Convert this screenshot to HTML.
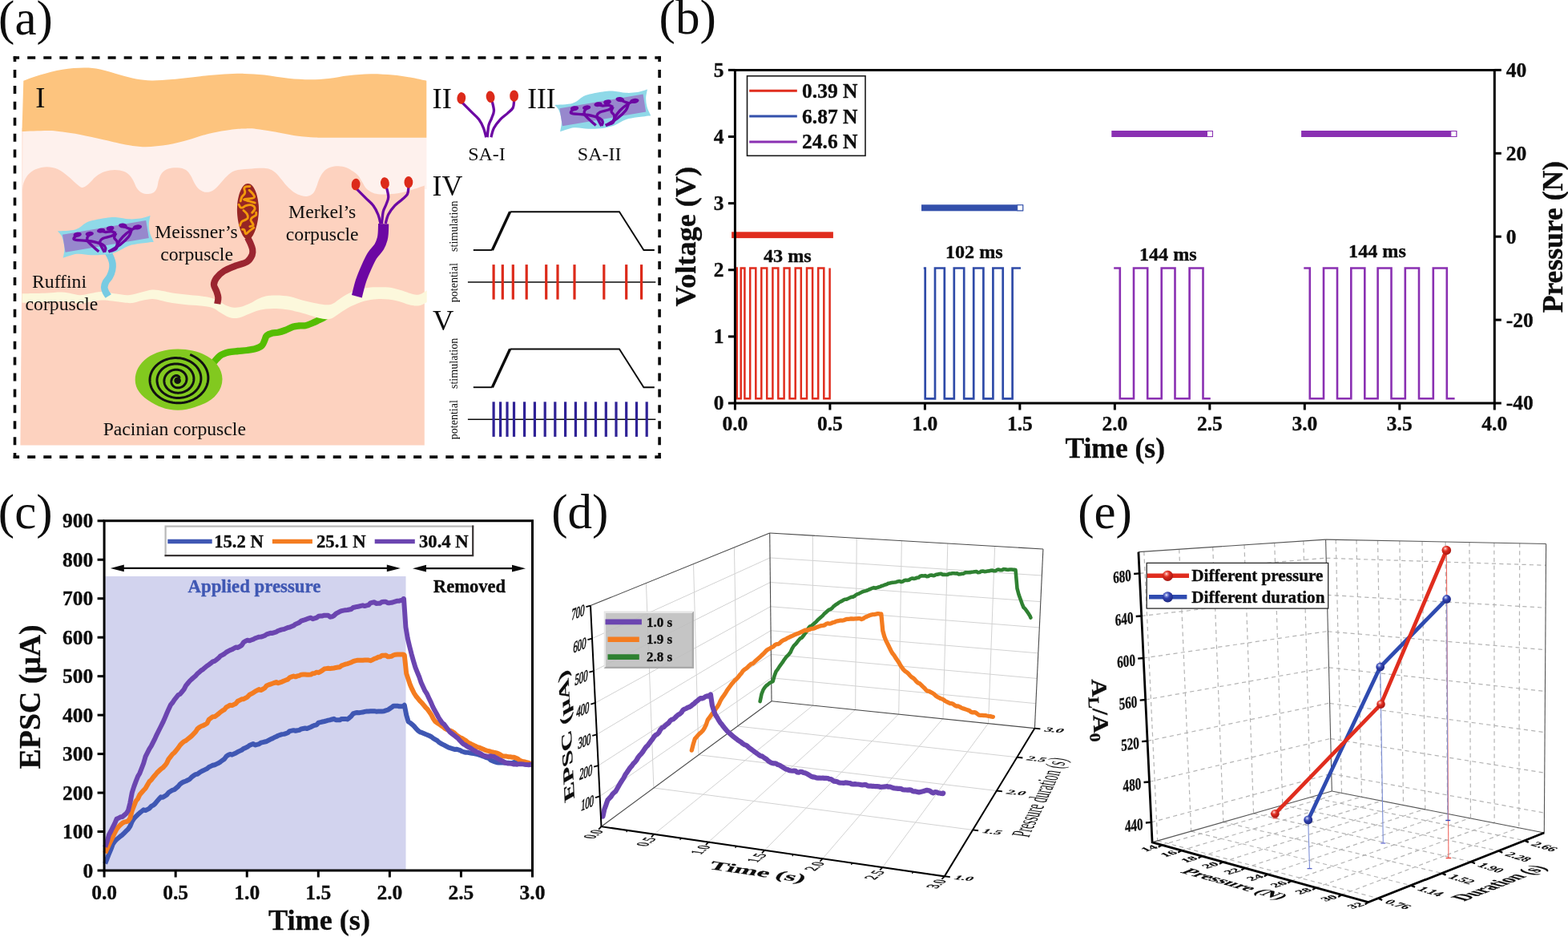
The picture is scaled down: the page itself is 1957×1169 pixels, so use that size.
<!DOCTYPE html>
<html lang="en"><head><meta charset="utf-8"><title>Figure</title>
<style>
html,body{margin:0;padding:0;background:#fff;}
body{width:1957px;height:1169px;overflow:hidden;}
svg{display:block;}
text{font-family:"Liberation Serif","Times New Roman",serif;fill:#0d0d0d;}
.b{font-weight:bold;stroke:#0d0d0d;stroke-width:0.35px;}
.i{font-style:italic;}
</style></head><body>
<svg width="1957" height="1169" viewBox="0 0 1957 1169">
<rect width="1957" height="1169" fill="#fff"/>
<!-- 05_a_left.py -->
<g id="panel-a-left"><path d="M27.6 150 H532.4 V236 L529.8 236 V250 H27.6 Z" stroke="none" stroke-width="1" fill="#fef1ed" />
<path d="M28.00 237.00 C28.22 235.58 28.13 231.67 29.30 228.50 C30.47 225.33 32.38 220.92 35.00 218.00 C37.62 215.08 41.08 212.63 45.00 211.00 C48.92 209.37 54.00 208.20 58.50 208.20 C63.00 208.20 67.58 209.03 72.00 211.00 C76.42 212.97 81.17 217.00 85.00 220.00 C88.83 223.00 92.08 226.68 95.00 229.00 C97.92 231.32 100.00 233.73 102.50 233.90 C105.00 234.07 107.08 232.32 110.00 230.00 C112.92 227.68 116.50 222.67 120.00 220.00 C123.50 217.33 127.12 215.33 131.00 214.00 C134.88 212.67 139.30 212.00 143.30 212.00 C147.30 212.00 151.88 212.83 155.00 214.00 C158.12 215.17 160.10 217.10 162.00 219.00 C163.90 220.90 164.90 222.73 166.40 225.40 C167.90 228.07 169.23 232.48 171.00 235.00 C172.77 237.52 174.68 239.33 177.00 240.50 C179.32 241.67 182.40 242.08 184.90 242.00 C187.40 241.92 190.15 241.33 192.00 240.00 C193.85 238.67 195.00 236.50 196.00 234.00 C197.00 231.50 197.00 228.00 198.00 225.00 C199.00 222.00 200.00 218.42 202.00 216.00 C204.00 213.58 206.68 211.62 210.00 210.50 C213.32 209.38 218.23 209.05 221.90 209.30 C225.57 209.55 229.32 210.38 232.00 212.00 C234.68 213.62 236.17 216.17 238.00 219.00 C239.83 221.83 241.17 226.08 243.00 229.00 C244.83 231.92 246.62 234.70 249.00 236.50 C251.38 238.30 254.47 239.63 257.30 239.80 C260.13 239.97 263.22 239.13 266.00 237.50 C268.78 235.87 271.17 232.92 274.00 230.00 C276.83 227.08 279.82 222.82 283.00 220.00 C286.18 217.18 288.60 214.63 293.10 213.10 C297.60 211.57 303.58 211.32 310.00 210.80 C316.42 210.28 326.27 209.47 331.60 210.00 C336.93 210.53 338.92 211.93 342.00 214.00 C345.08 216.07 347.43 219.40 350.10 222.40 C352.77 225.40 355.18 229.07 358.00 232.00 C360.82 234.93 364.00 238.00 367.00 240.00 C370.00 242.00 373.17 243.22 376.00 244.00 C378.83 244.78 381.50 245.20 384.00 244.70 C386.50 244.20 389.17 242.95 391.00 241.00 C392.83 239.05 393.67 236.17 395.00 233.00 C396.33 229.83 397.33 225.33 399.00 222.00 C400.67 218.67 402.67 215.25 405.00 213.00 C407.33 210.75 410.08 209.45 413.00 208.50 C415.92 207.55 419.33 207.22 422.50 207.30 C425.67 207.38 428.92 207.88 432.00 209.00 C435.08 210.12 438.47 212.28 441.00 214.00 C443.53 215.72 445.37 217.13 447.20 219.30 C449.03 221.47 450.37 224.38 452.00 227.00 C453.63 229.62 455.00 232.83 457.00 235.00 C459.00 237.17 461.50 238.80 464.00 240.00 C466.50 241.20 468.50 241.82 472.00 242.20 C475.50 242.58 480.33 242.58 485.00 242.30 C489.67 242.02 495.00 241.47 500.00 240.50 C505.00 239.53 510.03 237.98 515.00 236.50 C519.97 235.02 527.33 232.42 529.80 231.60 L529.8 555.5 L25.4 555.5 L27.6 300 L27.6 160 L28.3 160 Z" stroke="none" stroke-width="1" fill="#fdd2bf" />
<path d="M29.30 100.80 C32.75 99.58 41.88 95.83 50.00 93.50 C58.12 91.17 68.88 88.28 78.00 86.80 C87.12 85.32 96.87 84.65 104.70 84.60 C112.53 84.55 117.45 85.02 125.00 86.50 C132.55 87.98 142.50 91.50 150.00 93.50 C157.50 95.50 163.43 97.35 170.00 98.50 C176.57 99.65 181.90 100.32 189.40 100.40 C196.90 100.48 204.90 99.87 215.00 99.00 C225.10 98.13 239.17 96.27 250.00 95.20 C260.83 94.13 270.83 93.15 280.00 92.60 C289.17 92.05 296.67 91.75 305.00 91.90 C313.33 92.05 320.83 92.52 330.00 93.50 C339.17 94.48 350.50 96.83 360.00 97.80 C369.50 98.77 378.67 99.27 387.00 99.30 C395.33 99.33 402.00 98.83 410.00 98.00 C418.00 97.17 426.25 95.25 435.00 94.30 C443.75 93.35 453.33 92.42 462.50 92.30 C471.67 92.18 481.75 92.88 490.00 93.60 C498.25 94.32 504.95 95.40 512.00 96.60 C519.05 97.80 528.92 100.10 532.30 100.80 L532.3 171.7 C526.92 171.70 513.72 171.70 500.00 171.70 C486.28 171.70 465.00 171.70 450.00 171.70 C435.00 171.70 419.50 171.73 410.00 171.70 C400.50 171.67 399.67 171.87 393.00 171.50 C386.33 171.13 378.83 170.75 370.00 169.50 C361.17 168.25 348.33 165.42 340.00 164.00 C331.67 162.58 325.50 161.60 320.00 161.00 C314.50 160.40 312.00 160.32 307.00 160.40 C302.00 160.48 297.50 160.48 290.00 161.50 C282.50 162.52 271.17 164.33 262.00 166.50 C252.83 168.67 243.67 172.17 235.00 174.50 C226.33 176.83 218.88 179.05 210.00 180.50 C201.12 181.95 190.03 183.12 181.70 183.20 C173.37 183.28 168.62 182.45 160.00 181.00 C151.38 179.55 140.00 176.67 130.00 174.50 C120.00 172.33 108.67 169.67 100.00 168.00 C91.33 166.33 84.67 165.33 78.00 164.50 C71.33 163.67 68.42 163.08 60.00 163.00 C51.58 162.92 32.92 163.83 27.50 164.00 Z" stroke="none" stroke-width="1" fill="#fdc47e" />
<path d="M266.00 453.00 C267.50 451.42 271.77 445.77 275.00 443.50 C278.23 441.23 281.73 440.32 285.40 439.40 C289.07 438.48 293.15 438.40 297.00 438.00 C300.85 437.60 304.83 437.50 308.50 437.00 C312.17 436.50 315.92 436.02 319.00 435.00 C322.08 433.98 325.08 432.73 327.00 430.90 C328.92 429.07 329.50 426.05 330.50 424.00 C331.50 421.95 331.42 420.02 333.00 418.60 C334.58 417.18 337.67 416.15 340.00 415.50 C342.33 414.85 344.33 415.28 347.00 414.70 C349.67 414.12 352.92 413.15 356.00 412.00 C359.08 410.85 362.67 408.72 365.50 407.80 C368.33 406.88 370.42 406.77 373.00 406.50 C375.58 406.23 378.17 406.78 381.00 406.20 C383.83 405.62 387.18 404.15 390.00 403.00 C392.82 401.85 395.57 400.42 397.90 399.30 C400.23 398.18 402.15 397.32 404.00 396.30 C405.85 395.28 408.17 393.72 409.00 393.20" stroke="#55bd03" stroke-width="8.3" fill="none" stroke-linecap="butt"/>
<path d="M27.50 366.20 C30.42 366.17 39.58 366.12 45.00 366.00 C50.42 365.88 54.67 365.73 60.00 365.50 C65.33 365.27 72.00 364.43 77.00 364.60 C82.00 364.77 86.17 365.88 90.00 366.50 C93.83 367.12 96.17 368.38 100.00 368.30 C103.83 368.22 108.50 366.73 113.00 366.00 C117.50 365.27 121.67 363.82 127.00 363.90 C132.33 363.98 139.50 365.78 145.00 366.50 C150.50 367.22 155.00 368.45 160.00 368.20 C165.00 367.95 170.00 366.10 175.00 365.00 C180.00 363.90 185.33 361.93 190.00 361.60 C194.67 361.27 198.83 362.37 203.00 363.00 C207.17 363.63 210.17 364.65 215.00 365.40 C219.83 366.15 226.17 366.85 232.00 367.50 C237.83 368.15 244.83 368.63 250.00 369.30 C255.17 369.97 259.33 370.55 263.00 371.50 C266.67 372.45 269.00 373.50 272.00 375.00 C275.00 376.50 278.00 379.08 281.00 380.50 C284.00 381.92 286.83 383.08 290.00 383.50 C293.17 383.92 296.33 383.83 300.00 383.00 C303.67 382.17 308.33 380.17 312.00 378.50 C315.67 376.83 318.73 374.50 322.00 373.00 C325.27 371.50 327.77 370.25 331.60 369.50 C335.43 368.75 339.93 368.42 345.00 368.50 C350.07 368.58 356.52 368.97 362.00 370.00 C367.48 371.03 372.40 373.28 377.90 374.70 C383.40 376.12 389.98 377.57 395.00 378.50 C400.02 379.43 404.50 380.30 408.00 380.30 C411.50 380.30 413.00 379.97 416.00 378.50 C419.00 377.03 422.08 373.92 426.00 371.50 C429.92 369.08 434.67 366.00 439.50 364.00 C444.33 362.00 449.92 360.45 455.00 359.50 C460.08 358.55 465.00 358.45 470.00 358.30 C475.00 358.15 480.00 357.98 485.00 358.60 C490.00 359.22 495.50 360.77 500.00 362.00 C504.50 363.23 508.73 365.05 512.00 366.00 C515.27 366.95 517.27 367.62 519.60 367.70 C521.93 367.78 523.82 367.40 526.00 366.50 C528.18 365.60 531.58 363.00 532.70 362.30 L532.7 377 C531.58 377.58 528.18 379.73 526.00 380.50 C523.82 381.27 522.27 381.68 519.60 381.60 C516.93 381.52 513.60 380.93 510.00 380.00 C506.40 379.07 502.17 377.08 498.00 376.00 C493.83 374.92 489.67 373.97 485.00 373.50 C480.33 373.03 475.00 372.87 470.00 373.20 C465.00 373.53 460.08 374.12 455.00 375.50 C449.92 376.88 444.00 379.42 439.50 381.50 C435.00 383.58 431.25 386.00 428.00 388.00 C424.75 390.00 422.45 391.90 420.00 393.50 C417.55 395.10 415.80 396.85 413.30 397.60 C410.80 398.35 408.05 398.27 405.00 398.00 C401.95 397.73 399.52 397.20 395.00 396.00 C390.48 394.80 383.73 392.38 377.90 390.80 C372.07 389.22 365.48 387.47 360.00 386.50 C354.52 385.53 349.73 385.17 345.00 385.00 C340.27 384.83 335.77 385.00 331.60 385.50 C327.43 386.00 323.60 386.92 320.00 388.00 C316.40 389.08 313.33 390.67 310.00 392.00 C306.67 393.33 302.83 395.17 300.00 396.00 C297.17 396.83 295.50 397.08 293.00 397.00 C290.50 396.92 288.00 396.67 285.00 395.50 C282.00 394.33 278.33 391.92 275.00 390.00 C271.67 388.08 269.17 385.42 265.00 384.00 C260.83 382.58 255.67 382.17 250.00 381.50 C244.33 380.83 236.83 380.58 231.00 380.00 C225.17 379.42 220.17 378.88 215.00 378.00 C209.83 377.12 204.17 375.52 200.00 374.70 C195.83 373.88 193.83 373.05 190.00 373.10 C186.17 373.15 181.17 374.18 177.00 375.00 C172.83 375.82 168.67 377.58 165.00 378.00 C161.33 378.42 159.17 377.92 155.00 377.50 C150.83 377.08 144.67 376.00 140.00 375.50 C135.33 375.00 131.50 374.33 127.00 374.50 C122.50 374.67 117.50 375.83 113.00 376.50 C108.50 377.17 106.00 378.58 100.00 378.50 C94.00 378.42 83.67 376.33 77.00 376.00 C70.33 375.67 65.33 376.25 60.00 376.50 C54.67 376.75 50.42 377.30 45.00 377.50 C39.58 377.70 30.42 377.67 27.50 377.70 Z" stroke="none" stroke-width="1" fill="#fcf8dc" />
<path d="M134.50 314.00 C135.17 315.33 137.50 319.50 138.50 322.00 C139.50 324.50 140.25 326.50 140.50 329.00 C140.75 331.50 140.58 334.33 140.00 337.00 C139.42 339.67 138.33 342.50 137.00 345.00 C135.67 347.50 133.13 349.75 132.00 352.00 C130.87 354.25 130.20 356.42 130.20 358.50 C130.20 360.58 131.17 362.67 132.00 364.50 C132.83 366.33 134.67 368.67 135.20 369.50" stroke="#77cbe3" stroke-width="8.6" fill="none" stroke-linecap="butt"/>
<g transform="translate(0.00 0.00)"><path d="M71.86 288.42 C75.63 288.06 88.09 288.24 94.50 286.26 C100.91 284.29 104.08 278.96 110.31 276.56 C116.54 274.17 125.88 272.79 131.87 271.89 C137.86 270.99 141.45 270.93 146.24 271.17 C151.04 271.41 155.83 273.09 160.62 273.33 C165.41 273.57 170.50 273.33 174.99 272.61 C179.48 271.89 185.47 269.61 187.57 269.01 C187.27 270.87 185.83 276.50 185.77 280.15 C185.71 283.81 186.19 287.34 187.21 290.94 C188.23 294.53 191.10 299.92 191.88 301.72 C189.07 302.07 180.20 303.03 174.99 303.87 C169.78 304.71 165.41 305.07 160.62 306.75 C155.83 308.42 151.04 312.14 146.24 313.93 C141.45 315.73 137.26 316.81 131.87 317.53 C126.48 318.25 119.89 318.37 113.90 318.25 C107.91 318.13 101.80 316.21 95.94 316.81 C90.07 317.41 81.56 321.00 78.69 321.84 C78.99 319.68 80.72 313.33 80.48 308.90 C80.24 304.47 78.69 298.66 77.25 295.25 C75.81 291.83 72.76 289.56 71.86 288.42Z" stroke="none" stroke-width="1" fill="#8fd9e8" /><polygon points="77.97,292.73 182.18,274.98 185.77,297.04 81.56,314.80" fill="#9788cd"/><ellipse cx="96.65" cy="292.73" rx="5.17" ry="3.02" fill="#6c07a3" transform="rotate(-8 96.65 292.73)"/><ellipse cx="111.75" cy="291.80" rx="5.17" ry="2.87" fill="#6c07a3" transform="rotate(-8 111.75 291.80)"/><ellipse cx="126.12" cy="287.70" rx="5.17" ry="2.87" fill="#6c07a3" transform="rotate(-10 126.12 287.70)"/><ellipse cx="137.62" cy="284.83" rx="4.89" ry="2.87" fill="#6c07a3" transform="rotate(-10 137.62 284.83)"/><ellipse cx="153.43" cy="281.59" rx="5.39" ry="3.02" fill="#6c07a3" transform="rotate(8 153.43 281.59)"/><ellipse cx="171.40" cy="283.39" rx="5.75" ry="3.02" fill="#6c07a3" transform="rotate(-8 171.40 283.39)"/><path d="M96.65 293.09 C95.94 293.69 92.82 295.67 92.34 296.68 C91.86 297.70 91.38 298.60 93.78 299.20 C96.17 299.80 102.76 299.86 106.72 300.28 C110.67 300.70 113.90 300.88 117.50 301.72 C121.09 302.55 125.88 303.99 128.28 305.31 C130.67 306.63 131.51 308.06 131.87 309.62 C132.23 311.18 130.67 313.81 130.43 314.65" stroke="#6c07a3" stroke-width="3.4" fill="none" stroke-linecap="butt" stroke-linejoin="round"/><path d="M111.75 292.37 C111.27 293.09 109.23 295.25 108.87 296.68 C108.51 298.12 108.27 299.08 109.59 301.00 C110.91 302.91 114.50 306.03 116.78 308.18 C119.05 310.34 122.17 312.98 123.25 313.93" stroke="#6c07a3" stroke-width="3.4" fill="none" stroke-linecap="butt" stroke-linejoin="round"/><path d="M126.12 288.06 C127.08 288.30 129.71 289.38 131.87 289.50 C134.03 289.62 136.90 288.54 139.06 288.78 C141.21 289.02 143.85 290.58 144.81 290.94" stroke="#6c07a3" stroke-width="3.4" fill="none" stroke-linecap="butt" stroke-linejoin="round"/><path d="M137.62 285.19 C137.86 285.78 138.82 288.18 139.06 288.78" stroke="#6c07a3" stroke-width="3.4" fill="none" stroke-linecap="butt" stroke-linejoin="round"/><path d="M144.81 290.94 C143.85 291.53 141.81 293.45 139.06 294.53 C136.30 295.61 130.67 296.21 128.28 297.40 C125.88 298.60 125.04 300.16 124.68 301.72 C124.32 303.27 125.16 304.59 126.12 306.75 C127.08 308.90 129.71 313.33 130.43 314.65" stroke="#6c07a3" stroke-width="3.4" fill="none" stroke-linecap="butt" stroke-linejoin="round"/><path d="M144.81 290.94 C144.45 291.89 142.41 294.89 142.65 296.68 C142.89 298.48 145.88 299.44 146.24 301.72 C146.60 303.99 146.60 308.30 144.81 310.34 C143.01 312.38 137.02 313.33 135.46 313.93" stroke="#6c07a3" stroke-width="3.4" fill="none" stroke-linecap="butt" stroke-linejoin="round"/><path d="M153.43 281.95 C154.39 282.37 157.38 283.75 159.18 284.47 C160.98 285.19 163.37 285.96 164.21 286.26" stroke="#6c07a3" stroke-width="3.4" fill="none" stroke-linecap="butt" stroke-linejoin="round"/><path d="M171.40 283.75 C170.20 284.23 167.21 284.71 164.21 286.62 C161.22 288.54 156.43 292.13 153.43 295.25 C150.44 298.36 147.68 302.79 146.24 305.31 C144.81 307.82 145.05 309.50 144.81 310.34" stroke="#6c07a3" stroke-width="3.4" fill="none" stroke-linecap="butt" stroke-linejoin="round"/><path d="M164.21 286.62 C163.61 288.06 163.01 292.13 160.62 295.25 C158.22 298.36 154.03 302.19 149.84 305.31 C145.65 308.42 137.86 312.50 135.46 313.93" stroke="#6c07a3" stroke-width="3.4" fill="none" stroke-linecap="butt" stroke-linejoin="round"/></g>
<path d="M309.00 296.44 C309.59 297.64 311.57 301.23 312.59 303.62 C313.61 306.02 314.74 308.42 315.10 310.81 C315.46 313.21 315.88 315.36 314.74 318.00 C313.61 320.63 311.75 324.35 308.28 326.62 C304.80 328.90 298.69 329.74 293.90 331.65 C289.11 333.57 283.48 335.61 279.53 338.12 C275.58 340.64 272.28 343.87 270.19 346.75 C268.09 349.62 266.95 352.62 266.95 355.37 C266.95 358.13 269.29 360.64 270.19 363.28 C271.08 365.91 272.16 368.55 272.34 371.18 C272.52 373.82 271.44 377.77 271.26 379.09" stroke="#9b2530" stroke-width="8.2" fill="none" stroke-linecap="butt"/>
<path d="M309.4 229 C318 229 323.2 247 323 262 C322.8 278 317 298.8 309.4 298.8 C301.8 298.8 296 278 295.9 262 C295.8 247 301 229 309.4 229 Z" fill="#972624"/>
<path d="M311.81 232.61 C310.97 232.64 307.95 232.40 306.78 232.82 C305.60 233.24 304.94 234.14 304.76 235.12 C304.59 236.11 305.60 237.64 305.70 238.72 C305.80 239.80 306.00 240.39 305.34 241.59 C304.68 242.79 302.58 244.35 301.75 245.90 C300.91 247.46 300.55 250.10 300.31 250.94" stroke="#f39a0b" stroke-width="2.9" fill="none" stroke-linecap="round" stroke-linejoin="round"/>
<path d="M311.09 237.28 C311.81 238.00 314.32 240.15 315.40 241.59 C316.48 243.03 317.68 244.95 317.56 245.90 C317.44 246.86 316.84 246.86 314.68 247.34 C312.53 247.82 305.22 248.18 304.62 248.78 C304.02 249.38 308.81 250.22 311.09 250.94 C313.37 251.65 317.08 252.73 318.28 253.09" stroke="#f39a0b" stroke-width="2.9" fill="none" stroke-linecap="round" stroke-linejoin="round"/>
<path d="M298.15 255.25 C298.51 255.85 299.47 258.24 300.31 258.84 C301.15 259.44 302.11 259.20 303.18 258.84 C304.26 258.48 305.22 257.22 306.78 256.68 C308.33 256.15 310.85 255.49 312.53 255.61 C314.20 255.73 315.94 256.50 316.84 257.40 C317.74 258.30 318.28 259.68 317.92 261.00 C317.56 262.31 315.22 264.59 314.68 265.31" stroke="#f39a0b" stroke-width="2.9" fill="none" stroke-linecap="round" stroke-linejoin="round"/>
<path d="M303.90 262.43 C304.62 263.15 307.32 265.19 308.21 266.75 C309.11 268.30 309.53 270.58 309.29 271.78 C309.05 272.98 308.04 273.15 306.78 273.93 C305.52 274.71 302.94 275.25 301.75 276.45 C300.55 277.65 299.95 280.34 299.59 281.12" stroke="#f39a0b" stroke-width="2.9" fill="none" stroke-linecap="round" stroke-linejoin="round"/>
<path d="M319.71 265.31 C319.65 265.85 320.19 267.53 319.35 268.54 C318.52 269.56 315.76 270.40 314.68 271.42 C313.61 272.44 312.83 273.51 312.89 274.65 C312.95 275.79 314.50 277.17 315.04 278.25 C315.58 279.32 316.66 280.40 316.12 281.12 C315.58 281.84 312.53 282.32 311.81 282.56" stroke="#f39a0b" stroke-width="2.9" fill="none" stroke-linecap="round" stroke-linejoin="round"/>
<path d="M302.47 286.15 C302.88 286.27 304.26 285.91 304.98 286.87 C305.70 287.83 305.76 291.66 306.78 291.90 C307.80 292.14 309.41 289.63 311.09 288.31 C312.77 286.99 315.88 284.71 316.84 284.00" stroke="#f39a0b" stroke-width="2.9" fill="none" stroke-linecap="round" stroke-linejoin="round"/>
<path d="M478.64 279.22 C478.58 281.02 478.52 286.89 478.28 290.00 C478.04 293.11 478.04 294.91 477.20 297.91 C476.36 300.90 475.34 304.49 473.25 307.97 C471.15 311.44 467.26 314.56 464.62 318.75 C461.99 322.94 459.83 327.73 457.43 333.12 C455.04 338.51 452.26 344.98 450.25 351.09 C448.23 357.20 446.17 366.66 445.36 369.78" stroke="#6c07a3" stroke-width="13.2" fill="none" stroke-linecap="butt"/>
<g transform="translate(0.00 0.00)"><path d="M444.50 235.15 C446.53 237.19 453.12 243.78 456.72 247.37 C460.31 250.97 463.54 253.36 466.06 256.72 C468.57 260.07 470.31 263.78 471.81 267.50 C473.31 271.21 474.50 277.08 475.04 279.00" stroke="#6c07a3" stroke-width="3.3" fill="none" stroke-linecap="butt"/><path d="M482.59 234.44 C482.95 236.35 484.86 242.46 484.74 245.94 C484.63 249.41 482.95 252.28 481.87 255.28 C480.79 258.27 479.17 259.95 478.28 263.90 C477.38 267.86 476.78 276.48 476.48 279.00" stroke="#6c07a3" stroke-width="3.3" fill="none" stroke-linecap="butt"/><path d="M509.90 233.72 C509.66 235.15 509.78 239.83 508.46 242.34 C507.14 244.86 504.63 246.41 501.99 248.81 C499.36 251.21 495.53 253.60 492.65 256.72 C489.78 259.83 486.66 263.78 484.74 267.50 C482.83 271.21 481.75 277.08 481.15 279.00" stroke="#6c07a3" stroke-width="3.3" fill="none" stroke-linecap="butt"/><ellipse cx="444.10" cy="230.10" rx="5.4" ry="7.3" fill="#dc2a1a" transform="rotate(5 444.10 230.10)"/><ellipse cx="480.40" cy="228.50" rx="5.4" ry="7.3" fill="#dc2a1a" transform="rotate(-8 480.40 228.50)"/><ellipse cx="509.90" cy="227.40" rx="5.4" ry="7.3" fill="#dc2a1a" transform="rotate(0 509.90 227.40)"/></g>
<path d="M168.7 474 C168.7 452 191 435.4 222 435.4 C254 435.4 277.5 452 277.5 473 C277.5 488 266 500 250 505.5 C240 509.5 232 511.8 222 511.8 C211 511.8 199 508.5 189 502 C176 494.5 168.7 485 168.7 474 Z" fill="#82c91f"/>
<polyline points="237.21,442.45 239.51,443.41 241.72,444.50 243.84,445.69 245.85,446.99 247.76,448.39 249.54,449.89 251.21,451.47 252.74,453.13 254.13,454.86 255.38,456.67 256.48,458.53 257.44,460.43 258.24,462.39 258.88,464.37 259.37,466.38 259.70,468.41 259.86,470.45 259.87,472.49 259.72,474.52 259.40,476.53 258.94,478.52 258.32,480.48 257.55,482.39 256.63,484.26 255.58,486.07 254.38,487.82 253.06,489.50 251.61,491.10 250.04,492.62 248.36,494.06 246.58,495.39 244.70,496.63 242.73,497.77 240.69,498.79 238.57,499.71 236.40,500.51 234.17,501.19 231.90,501.76 229.59,502.20 227.27,502.51 224.93,502.71 222.58,502.78 220.25,502.73 217.92,502.55 215.63,502.25 213.37,501.84 211.15,501.30 208.98,500.66 206.88,499.90 204.84,499.03 202.88,498.06 201.01,496.99 199.23,495.82 197.55,494.57 195.98,493.23 194.52,491.82 193.18,490.34 191.95,488.79 190.86,487.18 189.90,485.52 189.07,483.82 188.37,482.08 187.82,480.32 187.40,478.53 187.13,476.73 187.00,474.92 187.01,473.11 187.16,471.31 187.45,469.52 187.88,467.76 188.45,466.03 189.14,464.34 189.96,462.69 190.91,461.09 191.98,459.55 193.16,458.07 194.45,456.66 195.84,455.33 197.33,454.07 198.91,452.90 200.58,451.82 202.32,450.83 204.12,449.94 205.99,449.15 207.91,448.46 209.87,447.87 211.87,447.39 213.90,447.02 215.94,446.76 218.00,446.61 220.05,446.57 222.10,446.64 224.14,446.82 226.15,447.10 228.12,447.49 230.06,447.99 231.95,448.58 233.79,449.28 235.56,450.06 237.26,450.94 238.89,451.91 240.43,452.95 241.89,454.08 243.25,455.28 244.51,456.54 245.67,457.87 246.72,459.25 247.66,460.68 248.48,462.16 249.19,463.67 249.78,465.22 250.24,466.78 250.59,468.37 250.81,469.97 250.90,471.57 250.88,473.17 250.73,474.76 250.46,476.34 250.07,477.89 249.57,479.42 248.95,480.91 248.22,482.36 247.38,483.77 246.44,485.12 245.41,486.42 244.28,487.66 243.06,488.83 241.76,489.93 240.38,490.95 238.93,491.90 237.42,492.76 235.85,493.54 234.23,494.23 232.57,494.83 230.87,495.34 229.15,495.76 227.40,496.08 225.64,496.30 223.87,496.43 222.10,496.46 220.34,496.40 218.59,496.24 216.87,495.99 215.18,495.64 213.52,495.21 211.91,494.69 210.34,494.09 208.83,493.40 207.38,492.64 206.00,491.80 204.69,490.89 203.46,489.91 202.31,488.88 201.25,487.78 200.27,486.63 199.39,485.44 198.60,484.20 197.92,482.93 197.33,481.62 196.85,480.30 196.47,478.95 196.20,477.58 196.03,476.21 195.96,474.84 196.00,473.47 196.15,472.11 196.39,470.76 196.74,469.43 197.19,468.13 197.73,466.86 198.36,465.63 199.08,464.43 199.89,463.28 200.78,462.19 201.75,461.14 202.80,460.16 203.91,459.23 205.08,458.37 206.31,457.58 207.59,456.86 208.92,456.22 210.29,455.65 211.69,455.15 213.13,454.74 214.58,454.41 216.05,454.16 217.53,453.99 219.01,453.91 220.49,453.90 221.97,453.98 223.42,454.14 224.86,454.37 226.27,454.69 227.64,455.08 228.98,455.54 230.28,456.08 231.53,456.68 232.72,457.35 233.86,458.08 234.93,458.87 235.94,459.72 236.88,460.62 237.75,461.56 238.54,462.55 239.26,463.58 239.89,464.64 240.44,465.73 240.91,466.84 241.29,467.98 241.58,469.13 241.79,470.29 241.91,471.45 241.94,472.62 241.89,473.78 241.75,474.93 241.53,476.07 241.22,477.19 240.84,478.29 240.38,479.36 239.84,480.40 239.23,481.40 238.55,482.36 237.81,483.28 237.00,484.16 236.14,484.98 235.22,485.75 234.25,486.46 233.24,487.12 232.18,487.72 231.10,488.25 229.98,488.72 228.83,489.13 227.67,489.46 226.49,489.73 225.29,489.94 224.10,490.07 222.90,490.14 221.71,490.14 220.52,490.07 219.35,489.93 218.21,489.73 217.08,489.47 215.98,489.14 214.92,488.75 213.89,488.31 212.90,487.81 211.96,487.25 211.07,486.65 210.23,486.00 209.44,485.30 208.71,484.57 208.03,483.79 207.42,482.98 206.88,482.15 206.40,481.28 205.98,480.40 205.63,479.49 205.36,478.57 205.15,477.64 205.01,476.71 204.93,475.77 204.93,474.83 204.99,473.90 205.12,472.98 205.32,472.07 205.58,471.17 205.90,470.30 206.28,469.45 206.72,468.63 207.22,467.84 207.76,467.08 208.36,466.36 209.00,465.68 209.69,465.04 210.41,464.44 211.17,463.89 211.97,463.39 212.79,462.93 213.64,462.53 214.51,462.18 215.39,461.88 216.29,461.64 217.20,461.45 218.11,461.31 219.02,461.23 219.93,461.21 220.84,461.23 221.73,461.31 222.61,461.45 223.48,461.63 224.32,461.86 225.14,462.15 225.93,462.48 226.69,462.85 227.41,463.27 228.10,463.72 228.75,464.22 229.37,464.75 229.93,465.31 230.46,465.91 230.93,466.53 231.36,467.18 231.74,467.85 232.08,468.53 232.36,469.24 232.59,469.95 232.76,470.67 232.89,471.40 232.97,472.14 232.99,472.87 232.97,473.60 232.90,474.32 232.77,475.04 232.60,475.74 232.39,476.42 232.13,477.09 231.83,477.74 231.49,478.37 231.12,478.97 230.70,479.54 230.26,480.08 229.78,480.60 229.27,481.08 228.74,481.52 228.19,481.93 227.62,482.30 227.02,482.63 226.42,482.92 225.80,483.18 225.18,483.39 224.55,483.56 223.91,483.69 223.28,483.78 222.65,483.83 222.02,483.84 221.41,483.81 220.80,483.74 220.21,483.63 219.63,483.49 219.07,483.30 218.54,483.09 218.02,482.84 217.53,482.56 217.06,482.25 216.62,481.91 216.21,481.54 215.83,481.15 215.48,480.74 215.17,480.31 214.88,479.86 214.63,479.39 214.42,478.92 214.23,478.43 214.08,477.93 213.97,477.43 213.89,476.92 213.85,476.41 213.83,475.90 213.85,475.39 213.90,474.89 213.99,474.40 214.10,473.92 214.24,473.44 214.40,472.98 214.59,472.54 214.81,472.11 215.05,471.70 215.31,471.31 215.59,470.94 215.88,470.60 216.19,470.27 216.52,469.98 216.85,469.70 217.20,469.46 217.55,469.24 217.91,469.05 218.27,468.88 218.64,468.75 219.00,468.64 219.37,468.56 219.72,468.51 220.08,468.48 220.43,468.48 220.76,468.51 221.09,468.57 221.41,468.65 221.71,468.75 222.00,468.88 222.28,469.03 222.54,469.20 222.78,469.39 223.01,469.59 223.22,469.82 223.40,470.06 223.57,470.31 223.72,470.58 223.85,470.86 223.96,471.15 224.06,471.45 224.13,471.75" stroke="#111" stroke-width="3.0" fill="none" stroke-linecap="butt" stroke-linejoin="round"/>
<circle cx="221.6" cy="474.7" r="4.3" fill="#111"/>
<text x="44.30" y="134.20" font-size="36.50" text-anchor="start" >I</text>
<text x="245.00" y="296.60" font-size="23.70" text-anchor="middle" >Meissner’s</text>
<text x="245.60" y="324.80" font-size="23.70" text-anchor="middle" >corpuscle</text>
<text x="402.20" y="271.60" font-size="23.70" text-anchor="middle" >Merkel’s</text>
<text x="402.20" y="300.10" font-size="23.70" text-anchor="middle" >corpuscle</text>
<text x="74.00" y="358.50" font-size="23.70" text-anchor="middle" >Ruffini</text>
<text x="77.00" y="386.50" font-size="23.70" text-anchor="middle" >corpuscle</text>
<text x="217.80" y="542.70" font-size="23.70" text-anchor="middle" >Pacinian corpuscle</text>
<g transform="translate(131.70 -107.70)"><path d="M444.50 235.15 C446.53 237.19 453.12 243.78 456.72 247.37 C460.31 250.97 463.54 253.36 466.06 256.72 C468.57 260.07 470.31 263.78 471.81 267.50 C473.31 271.21 474.50 277.08 475.04 279.00" stroke="#6c07a3" stroke-width="3.3" fill="none" stroke-linecap="butt"/><path d="M482.59 234.44 C482.95 236.35 484.86 242.46 484.74 245.94 C484.63 249.41 482.95 252.28 481.87 255.28 C480.79 258.27 479.17 259.95 478.28 263.90 C477.38 267.86 476.78 276.48 476.48 279.00" stroke="#6c07a3" stroke-width="3.3" fill="none" stroke-linecap="butt"/><path d="M509.90 233.72 C509.66 235.15 509.78 239.83 508.46 242.34 C507.14 244.86 504.63 246.41 501.99 248.81 C499.36 251.21 495.53 253.60 492.65 256.72 C489.78 259.83 486.66 263.78 484.74 267.50 C482.83 271.21 481.75 277.08 481.15 279.00" stroke="#6c07a3" stroke-width="3.3" fill="none" stroke-linecap="butt"/><ellipse cx="444.10" cy="230.10" rx="5.4" ry="7.3" fill="#dc2a1a" transform="rotate(5 444.10 230.10)"/><ellipse cx="480.40" cy="228.50" rx="5.4" ry="7.3" fill="#dc2a1a" transform="rotate(-8 480.40 228.50)"/><ellipse cx="509.90" cy="227.40" rx="5.4" ry="7.3" fill="#dc2a1a" transform="rotate(0 509.90 227.40)"/></g>
<g transform="translate(620.40 -157.50)"><path d="M71.86 288.42 C75.63 288.06 88.09 288.24 94.50 286.26 C100.91 284.29 104.08 278.96 110.31 276.56 C116.54 274.17 125.88 272.79 131.87 271.89 C137.86 270.99 141.45 270.93 146.24 271.17 C151.04 271.41 155.83 273.09 160.62 273.33 C165.41 273.57 170.50 273.33 174.99 272.61 C179.48 271.89 185.47 269.61 187.57 269.01 C187.27 270.87 185.83 276.50 185.77 280.15 C185.71 283.81 186.19 287.34 187.21 290.94 C188.23 294.53 191.10 299.92 191.88 301.72 C189.07 302.07 180.20 303.03 174.99 303.87 C169.78 304.71 165.41 305.07 160.62 306.75 C155.83 308.42 151.04 312.14 146.24 313.93 C141.45 315.73 137.26 316.81 131.87 317.53 C126.48 318.25 119.89 318.37 113.90 318.25 C107.91 318.13 101.80 316.21 95.94 316.81 C90.07 317.41 81.56 321.00 78.69 321.84 C78.99 319.68 80.72 313.33 80.48 308.90 C80.24 304.47 78.69 298.66 77.25 295.25 C75.81 291.83 72.76 289.56 71.86 288.42Z" stroke="none" stroke-width="1" fill="#8fd9e8" /><polygon points="77.97,292.73 182.18,274.98 185.77,297.04 81.56,314.80" fill="#9788cd"/><ellipse cx="96.65" cy="292.73" rx="5.17" ry="3.02" fill="#6c07a3" transform="rotate(-8 96.65 292.73)"/><ellipse cx="111.75" cy="291.80" rx="5.17" ry="2.87" fill="#6c07a3" transform="rotate(-8 111.75 291.80)"/><ellipse cx="126.12" cy="287.70" rx="5.17" ry="2.87" fill="#6c07a3" transform="rotate(-10 126.12 287.70)"/><ellipse cx="137.62" cy="284.83" rx="4.89" ry="2.87" fill="#6c07a3" transform="rotate(-10 137.62 284.83)"/><ellipse cx="153.43" cy="281.59" rx="5.39" ry="3.02" fill="#6c07a3" transform="rotate(8 153.43 281.59)"/><ellipse cx="171.40" cy="283.39" rx="5.75" ry="3.02" fill="#6c07a3" transform="rotate(-8 171.40 283.39)"/><path d="M96.65 293.09 C95.94 293.69 92.82 295.67 92.34 296.68 C91.86 297.70 91.38 298.60 93.78 299.20 C96.17 299.80 102.76 299.86 106.72 300.28 C110.67 300.70 113.90 300.88 117.50 301.72 C121.09 302.55 125.88 303.99 128.28 305.31 C130.67 306.63 131.51 308.06 131.87 309.62 C132.23 311.18 130.67 313.81 130.43 314.65" stroke="#6c07a3" stroke-width="3.4" fill="none" stroke-linecap="butt" stroke-linejoin="round"/><path d="M111.75 292.37 C111.27 293.09 109.23 295.25 108.87 296.68 C108.51 298.12 108.27 299.08 109.59 301.00 C110.91 302.91 114.50 306.03 116.78 308.18 C119.05 310.34 122.17 312.98 123.25 313.93" stroke="#6c07a3" stroke-width="3.4" fill="none" stroke-linecap="butt" stroke-linejoin="round"/><path d="M126.12 288.06 C127.08 288.30 129.71 289.38 131.87 289.50 C134.03 289.62 136.90 288.54 139.06 288.78 C141.21 289.02 143.85 290.58 144.81 290.94" stroke="#6c07a3" stroke-width="3.4" fill="none" stroke-linecap="butt" stroke-linejoin="round"/><path d="M137.62 285.19 C137.86 285.78 138.82 288.18 139.06 288.78" stroke="#6c07a3" stroke-width="3.4" fill="none" stroke-linecap="butt" stroke-linejoin="round"/><path d="M144.81 290.94 C143.85 291.53 141.81 293.45 139.06 294.53 C136.30 295.61 130.67 296.21 128.28 297.40 C125.88 298.60 125.04 300.16 124.68 301.72 C124.32 303.27 125.16 304.59 126.12 306.75 C127.08 308.90 129.71 313.33 130.43 314.65" stroke="#6c07a3" stroke-width="3.4" fill="none" stroke-linecap="butt" stroke-linejoin="round"/><path d="M144.81 290.94 C144.45 291.89 142.41 294.89 142.65 296.68 C142.89 298.48 145.88 299.44 146.24 301.72 C146.60 303.99 146.60 308.30 144.81 310.34 C143.01 312.38 137.02 313.33 135.46 313.93" stroke="#6c07a3" stroke-width="3.4" fill="none" stroke-linecap="butt" stroke-linejoin="round"/><path d="M153.43 281.95 C154.39 282.37 157.38 283.75 159.18 284.47 C160.98 285.19 163.37 285.96 164.21 286.26" stroke="#6c07a3" stroke-width="3.4" fill="none" stroke-linecap="butt" stroke-linejoin="round"/><path d="M171.40 283.75 C170.20 284.23 167.21 284.71 164.21 286.62 C161.22 288.54 156.43 292.13 153.43 295.25 C150.44 298.36 147.68 302.79 146.24 305.31 C144.81 307.82 145.05 309.50 144.81 310.34" stroke="#6c07a3" stroke-width="3.4" fill="none" stroke-linecap="butt" stroke-linejoin="round"/><path d="M164.21 286.62 C163.61 288.06 163.01 292.13 160.62 295.25 C158.22 298.36 154.03 302.19 149.84 305.31 C145.65 308.42 137.86 312.50 135.46 313.93" stroke="#6c07a3" stroke-width="3.4" fill="none" stroke-linecap="butt" stroke-linejoin="round"/></g></g>
<!-- 10_a_right.py -->
<g id="panel-a-right"><text x="-1.90" y="42.80" font-size="61.00" text-anchor="start" >(a)</text>
<line x1="16.70" y1="72.00" x2="824.90" y2="72.00" stroke="#0a0a0a" stroke-width="3.6" stroke-dasharray="10 10.08" stroke-dashoffset="2.58"/>
<line x1="16.70" y1="570.10" x2="824.90" y2="570.10" stroke="#0a0a0a" stroke-width="3.6" stroke-dasharray="10 10.08" stroke-dashoffset="2.58"/>
<line x1="18.50" y1="70.20" x2="18.50" y2="571.90" stroke="#0a0a0a" stroke-width="3.6" stroke-dasharray="10 9.92" stroke-dashoffset="3.10"/>
<line x1="823.10" y1="70.20" x2="823.10" y2="571.90" stroke="#0a0a0a" stroke-width="3.6" stroke-dasharray="10 9.92" stroke-dashoffset="3.10"/>
<text x="539.60" y="134.70" font-size="36.50" text-anchor="start" textLength="24.30" lengthAdjust="spacingAndGlyphs" >II</text>
<text x="658.30" y="134.70" font-size="36.50" text-anchor="start" textLength="35.30" lengthAdjust="spacingAndGlyphs" >III</text>
<text x="539.60" y="243.60" font-size="36.50" text-anchor="start" textLength="37.80" lengthAdjust="spacingAndGlyphs" >IV</text>
<text x="540.00" y="412.30" font-size="36.50" text-anchor="start" >V</text>
<text x="607.50" y="199.90" font-size="24.00" text-anchor="middle" >SA-I</text>
<text x="748.20" y="199.90" font-size="24.00" text-anchor="middle" >SA-II</text>
<polyline points="636.60,264.20 773.00,264.20 803.40,312.00 816.80,312.00" stroke="#0a0a0a" stroke-width="1.9" fill="none" />
<polyline points="590.80,312.00 614.40,312.00" stroke="#0a0a0a" stroke-width="1.9" fill="none" />
<polyline points="614.40,312.00 636.60,264.20" stroke="#0a0a0a" stroke-width="3.4" fill="none" stroke-linecap="butt"/>
<line x1="583.90" y1="352.00" x2="818.30" y2="352.00" stroke="#0a0a0a" stroke-width="1.6" />
<text font-size="14.10" text-anchor="middle" transform="translate(570.80 282.20) rotate(-90)" >stimulation</text>
<text font-size="14.10" text-anchor="middle" transform="translate(570.80 352.70) rotate(-90)" >potential</text>
<polyline points="636.60,435.50 773.00,435.50 803.40,483.20 816.80,483.20" stroke="#0a0a0a" stroke-width="1.9" fill="none" />
<polyline points="590.80,483.20 614.40,483.20" stroke="#0a0a0a" stroke-width="1.9" fill="none" />
<polyline points="614.40,483.20 636.60,435.50" stroke="#0a0a0a" stroke-width="3.4" fill="none" stroke-linecap="butt"/>
<line x1="583.90" y1="523.30" x2="818.30" y2="523.30" stroke="#0a0a0a" stroke-width="1.6" />
<text font-size="14.10" text-anchor="middle" transform="translate(570.80 453.40) rotate(-90)" >stimulation</text>
<text font-size="14.10" text-anchor="middle" transform="translate(570.80 523.70) rotate(-90)" >potential</text>
<line x1="616.10" y1="330.10" x2="616.10" y2="373.60" stroke="#dc2a1a" stroke-width="3.2" />
<line x1="627.30" y1="330.10" x2="627.30" y2="373.60" stroke="#dc2a1a" stroke-width="3.2" />
<line x1="640.30" y1="330.10" x2="640.30" y2="373.60" stroke="#dc2a1a" stroke-width="3.2" />
<line x1="657.20" y1="330.10" x2="657.20" y2="373.60" stroke="#dc2a1a" stroke-width="3.2" />
<line x1="681.70" y1="330.10" x2="681.70" y2="373.60" stroke="#dc2a1a" stroke-width="3.2" />
<line x1="696.00" y1="330.10" x2="696.00" y2="373.60" stroke="#dc2a1a" stroke-width="3.2" />
<line x1="717.00" y1="330.10" x2="717.00" y2="373.60" stroke="#dc2a1a" stroke-width="3.2" />
<line x1="753.80" y1="330.10" x2="753.80" y2="373.60" stroke="#dc2a1a" stroke-width="3.2" />
<line x1="781.70" y1="330.10" x2="781.70" y2="373.60" stroke="#dc2a1a" stroke-width="3.2" />
<line x1="800.60" y1="330.10" x2="800.60" y2="373.60" stroke="#dc2a1a" stroke-width="3.2" />
<line x1="616.10" y1="501.30" x2="616.10" y2="544.90" stroke="#2f2296" stroke-width="3.2" />
<line x1="624.60" y1="501.30" x2="624.60" y2="544.90" stroke="#2f2296" stroke-width="3.2" />
<line x1="633.00" y1="501.30" x2="633.00" y2="544.90" stroke="#2f2296" stroke-width="3.2" />
<line x1="641.50" y1="501.30" x2="641.50" y2="544.90" stroke="#2f2296" stroke-width="3.2" />
<line x1="654.60" y1="501.30" x2="654.60" y2="544.90" stroke="#2f2296" stroke-width="3.2" />
<line x1="667.40" y1="501.30" x2="667.40" y2="544.90" stroke="#2f2296" stroke-width="3.2" />
<line x1="680.20" y1="501.30" x2="680.20" y2="544.90" stroke="#2f2296" stroke-width="3.2" />
<line x1="692.80" y1="501.30" x2="692.80" y2="544.90" stroke="#2f2296" stroke-width="3.2" />
<line x1="705.60" y1="501.30" x2="705.60" y2="544.90" stroke="#2f2296" stroke-width="3.2" />
<line x1="718.40" y1="501.30" x2="718.40" y2="544.90" stroke="#2f2296" stroke-width="3.2" />
<line x1="730.80" y1="501.30" x2="730.80" y2="544.90" stroke="#2f2296" stroke-width="3.2" />
<line x1="743.50" y1="501.30" x2="743.50" y2="544.90" stroke="#2f2296" stroke-width="3.2" />
<line x1="756.30" y1="501.30" x2="756.30" y2="544.90" stroke="#2f2296" stroke-width="3.2" />
<line x1="769.00" y1="501.30" x2="769.00" y2="544.90" stroke="#2f2296" stroke-width="3.2" />
<line x1="781.70" y1="501.30" x2="781.70" y2="544.90" stroke="#2f2296" stroke-width="3.2" />
<line x1="794.50" y1="501.30" x2="794.50" y2="544.90" stroke="#2f2296" stroke-width="3.2" />
<line x1="807.20" y1="501.30" x2="807.20" y2="544.90" stroke="#2f2296" stroke-width="3.2" /></g>
<!-- 20_b.py -->
<g id="panel-b"><text x="822.60" y="42.30" font-size="61.00" text-anchor="start" >(b)</text>
<polyline points="918.50,334.50 919.80,334.50 919.80,497.30 924.70,497.30 924.70,334.50 929.40,334.50 929.40,497.30 936.20,497.30 936.20,334.50 943.30,334.50 943.30,497.30 950.30,497.30 950.30,334.50 957.20,334.50 957.20,497.30 964.40,497.30 964.40,334.50 971.30,334.50 971.30,497.30 978.60,497.30 978.60,334.50 985.50,334.50 985.50,497.30 992.70,497.30 992.70,334.50 999.80,334.50 999.80,497.30 1007.00,497.30 1007.00,334.50 1014.10,334.50 1014.10,497.30 1021.20,497.30 1021.20,334.50 1028.30,334.50 1028.30,497.30 1035.60,497.30 1035.60,334.50" stroke="#e02d1e" stroke-width="2.5" fill="none" stroke-linejoin="miter"/>
<polyline points="1152.80,334.50 1154.70,334.50 1154.70,497.30 1167.00,497.30 1167.00,334.50 1178.80,334.50 1178.80,497.30 1190.80,497.30 1190.80,334.50 1203.20,334.50 1203.20,497.30 1215.20,497.30 1215.20,334.50 1227.40,334.50 1227.40,497.30 1239.40,497.30 1239.40,334.50 1251.70,334.50 1251.70,497.30 1263.60,497.30 1263.60,334.50 1274.00,334.50" stroke="#2f4ba8" stroke-width="2.7" fill="none" stroke-linejoin="miter"/>
<polyline points="1390.20,334.50 1397.80,334.50 1397.80,497.30 1415.00,497.30 1415.00,334.50 1432.20,334.50 1432.20,497.30 1449.70,497.30 1449.70,334.50 1466.50,334.50 1466.50,497.30 1484.60,497.30 1484.60,334.50 1501.50,334.50 1501.50,497.30 1510.80,497.30" stroke="#8a30b2" stroke-width="2.6" fill="none" stroke-linejoin="miter"/>
<polyline points="1627.30,334.50 1634.80,334.50 1634.80,497.30 1652.00,497.30 1652.00,334.50 1669.00,334.50 1669.00,497.30 1686.30,497.30 1686.30,334.50 1703.30,334.50 1703.30,497.30 1719.60,497.30 1719.60,334.50 1736.50,334.50 1736.50,497.30 1753.80,497.30 1753.80,334.50 1771.00,334.50 1771.00,497.30 1788.80,497.30 1788.80,334.50 1805.80,334.50 1805.80,497.30 1815.60,497.30" stroke="#8a30b2" stroke-width="2.6" fill="none" stroke-linejoin="miter"/>
<rect x="913.10" y="289.30" width="126.80" height="7.80" fill="#e02d1e" stroke="none" stroke-width="1" />
<rect x="1150.00" y="255.30" width="127.20" height="8.00" fill="#3350ab" stroke="none" stroke-width="1" /><rect x="1269.70" y="255.80" width="7.00" height="7.00" fill="#fff" stroke="#3350ab" stroke-width="1" />
<rect x="1387.30" y="163.00" width="126.70" height="8.00" fill="#8a30b2" stroke="none" stroke-width="1" /><rect x="1506.50" y="163.50" width="7.00" height="7.00" fill="#fff" stroke="#8a30b2" stroke-width="1" />
<rect x="1624.10" y="163.00" width="194.20" height="8.00" fill="#8a30b2" stroke="none" stroke-width="1" /><rect x="1810.80" y="163.50" width="7.00" height="7.00" fill="#fff" stroke="#8a30b2" stroke-width="1" />
<path d="M917.40 87.40 H1865.30 V503.00 H917.40 Z" stroke="#000" stroke-width="3.0" fill="none" stroke-linejoin="miter"/>
<line x1="908.90" y1="503.00" x2="917.40" y2="503.00" stroke="#000" stroke-width="3.0" />
<text x="903.40" y="511.40" class="b" font-size="25.50" text-anchor="end" >0</text>
<line x1="908.90" y1="419.88" x2="917.40" y2="419.88" stroke="#000" stroke-width="3.0" />
<text x="903.40" y="428.28" class="b" font-size="25.50" text-anchor="end" >1</text>
<line x1="908.90" y1="336.76" x2="917.40" y2="336.76" stroke="#000" stroke-width="3.0" />
<text x="903.40" y="345.16" class="b" font-size="25.50" text-anchor="end" >2</text>
<line x1="908.90" y1="253.64" x2="917.40" y2="253.64" stroke="#000" stroke-width="3.0" />
<text x="903.40" y="262.04" class="b" font-size="25.50" text-anchor="end" >3</text>
<line x1="908.90" y1="170.52" x2="917.40" y2="170.52" stroke="#000" stroke-width="3.0" />
<text x="903.40" y="178.92" class="b" font-size="25.50" text-anchor="end" >4</text>
<line x1="908.90" y1="87.40" x2="917.40" y2="87.40" stroke="#000" stroke-width="3.0" />
<text x="903.40" y="95.80" class="b" font-size="25.50" text-anchor="end" >5</text>
<line x1="917.40" y1="503.00" x2="917.40" y2="511.50" stroke="#000" stroke-width="3.0" />
<text x="917.40" y="536.90" class="b" font-size="25.50" text-anchor="middle" >0.0</text>
<line x1="1035.89" y1="503.00" x2="1035.89" y2="511.50" stroke="#000" stroke-width="3.0" />
<text x="1035.89" y="536.90" class="b" font-size="25.50" text-anchor="middle" >0.5</text>
<line x1="1154.38" y1="503.00" x2="1154.38" y2="511.50" stroke="#000" stroke-width="3.0" />
<text x="1154.38" y="536.90" class="b" font-size="25.50" text-anchor="middle" >1.0</text>
<line x1="1272.86" y1="503.00" x2="1272.86" y2="511.50" stroke="#000" stroke-width="3.0" />
<text x="1272.86" y="536.90" class="b" font-size="25.50" text-anchor="middle" >1.5</text>
<line x1="1391.35" y1="503.00" x2="1391.35" y2="511.50" stroke="#000" stroke-width="3.0" />
<text x="1391.35" y="536.90" class="b" font-size="25.50" text-anchor="middle" >2.0</text>
<line x1="1509.84" y1="503.00" x2="1509.84" y2="511.50" stroke="#000" stroke-width="3.0" />
<text x="1509.84" y="536.90" class="b" font-size="25.50" text-anchor="middle" >2.5</text>
<line x1="1628.32" y1="503.00" x2="1628.32" y2="511.50" stroke="#000" stroke-width="3.0" />
<text x="1628.32" y="536.90" class="b" font-size="25.50" text-anchor="middle" >3.0</text>
<line x1="1746.81" y1="503.00" x2="1746.81" y2="511.50" stroke="#000" stroke-width="3.0" />
<text x="1746.81" y="536.90" class="b" font-size="25.50" text-anchor="middle" >3.5</text>
<line x1="1865.30" y1="503.00" x2="1865.30" y2="511.50" stroke="#000" stroke-width="3.0" />
<text x="1865.30" y="536.90" class="b" font-size="25.50" text-anchor="middle" >4.0</text>
<line x1="1865.30" y1="503.00" x2="1873.80" y2="503.00" stroke="#000" stroke-width="3.0" />
<text x="1879.80" y="511.40" class="b" font-size="25.50" text-anchor="start" >-40</text>
<line x1="1865.30" y1="399.10" x2="1873.80" y2="399.10" stroke="#000" stroke-width="3.0" />
<text x="1879.80" y="407.50" class="b" font-size="25.50" text-anchor="start" >-20</text>
<line x1="1865.30" y1="295.20" x2="1873.80" y2="295.20" stroke="#000" stroke-width="3.0" />
<text x="1879.80" y="303.60" class="b" font-size="25.50" text-anchor="start" >0</text>
<line x1="1865.30" y1="191.30" x2="1873.80" y2="191.30" stroke="#000" stroke-width="3.0" />
<text x="1879.80" y="199.70" class="b" font-size="25.50" text-anchor="start" >20</text>
<line x1="1865.30" y1="87.40" x2="1873.80" y2="87.40" stroke="#000" stroke-width="3.0" />
<text x="1879.80" y="95.80" class="b" font-size="25.50" text-anchor="start" >40</text>
<text x="1391.70" y="571.00" class="b" font-size="35.50" text-anchor="middle" >Time (s)</text>
<text class="b" font-size="36.20" text-anchor="middle" transform="translate(868.00 295.20) rotate(-90)" >Voltage (V)</text>
<text class="b" font-size="35.60" text-anchor="middle" transform="translate(1949.70 295.60) rotate(-90)" >Pressure (N)</text>
<rect x="932.50" y="94.80" width="147.50" height="99.50" fill="#fff" stroke="#1a1a1a" stroke-width="1.6" />
<line x1="935.20" y1="113.20" x2="994.80" y2="113.20" stroke="#e02d1e" stroke-width="3" />
<text x="1001.00" y="121.70" class="b" font-size="25.50" text-anchor="start" >0.39 N</text>
<line x1="935.20" y1="145.10" x2="994.80" y2="145.10" stroke="#3350ab" stroke-width="3" />
<text x="1001.00" y="153.60" class="b" font-size="25.50" text-anchor="start" >6.87 N</text>
<line x1="935.20" y1="176.90" x2="994.80" y2="176.90" stroke="#8a30b2" stroke-width="3" />
<text x="1001.00" y="185.40" class="b" font-size="25.50" text-anchor="start" >24.6 N</text>
<text class="b" font-size="23.00" text-anchor="middle" transform="translate(982.80 326.60) scale(1.0500 1)" >43 ms</text>
<text class="b" font-size="23.00" text-anchor="middle" transform="translate(1215.80 322.40) scale(1.0500 1)" >102 ms</text>
<text class="b" font-size="23.00" text-anchor="middle" transform="translate(1457.80 325.00) scale(1.0500 1)" >144 ms</text>
<text class="b" font-size="23.00" text-anchor="middle" transform="translate(1719.00 321.30) scale(1.0500 1)" >144 ms</text></g>
<!-- 30_c.py -->
<g id="panel-c"><text x="-2.20" y="659.30" font-size="61.00" text-anchor="start" >(c)</text>
<rect x="131.50" y="719.00" width="375.00" height="367.00" fill="#d2d3ee" stroke="none" stroke-width="1" />
<polyline points="131.20,1077.32 133.60,1071.52 136.00,1065.24 138.40,1059.64 140.80,1053.17 143.20,1049.68 145.60,1047.21 148.00,1045.21 150.40,1043.20 152.80,1041.47 155.20,1039.07 157.60,1036.67 160.00,1034.33 162.40,1030.74 164.80,1024.93 167.20,1021.07 169.60,1018.67 172.00,1016.27 174.40,1014.15 176.80,1012.25 179.20,1010.35 181.60,1011.02 184.00,1009.81 186.40,1008.60 188.80,1005.89 191.20,1004.68 193.60,1002.64 196.00,999.71 198.40,996.84 200.80,994.36 203.20,994.81 205.60,993.27 208.00,991.74 210.40,988.84 212.80,987.31 215.20,985.77 217.60,985.08 220.00,983.09 222.40,981.10 224.80,978.18 227.20,976.48 229.60,975.28 232.00,974.49 234.40,973.28 236.80,972.07 239.20,969.47 241.60,967.81 244.00,966.14 246.40,965.73 248.80,964.06 251.20,962.40 253.60,961.33 256.00,960.13 258.40,959.01 260.80,957.00 263.20,955.88 265.60,954.77 268.00,954.22 270.40,953.10 272.80,951.99 275.20,950.39 277.60,948.68 280.00,946.97 282.40,943.68 284.80,941.97 287.20,940.89 289.60,941.62 292.00,940.55 294.40,939.47 296.80,937.96 299.20,936.88 301.60,935.81 304.00,933.98 306.40,932.91 308.80,931.83 311.20,930.05 313.60,928.98 316.00,927.98 318.40,929.54 320.80,928.93 323.20,928.33 325.60,926.70 328.00,926.09 330.40,925.48 332.80,924.96 335.20,923.61 337.60,922.27 340.00,921.34 342.40,919.99 344.80,918.98 347.20,917.75 349.60,916.95 352.00,916.14 354.40,915.87 356.80,915.07 359.20,914.27 361.60,912.09 364.00,911.61 366.40,911.15 368.80,911.75 371.20,911.30 373.60,910.84 376.00,909.46 378.40,909.00 380.80,908.55 383.20,909.04 385.60,908.01 388.00,906.99 390.40,905.82 392.80,904.84 395.20,904.26 397.60,901.65 400.00,901.07 402.40,900.49 404.80,900.00 407.20,899.32 409.60,898.65 412.00,898.19 414.40,897.51 416.80,896.84 419.20,898.31 421.60,898.31 424.00,898.31 426.40,896.93 428.80,896.93 431.20,896.93 433.60,897.43 436.00,895.55 438.40,893.40 440.80,890.40 443.20,889.44 445.60,889.09 448.00,889.26 450.40,888.90 452.80,888.55 455.20,887.87 457.60,887.58 460.00,887.50 462.40,887.33 464.80,887.24 467.20,887.16 469.60,887.68 472.00,887.60 474.40,887.52 476.80,887.43 479.20,887.35 481.60,886.36 484.00,885.66 486.40,884.13 488.80,882.59 491.20,880.67 493.60,880.67 496.00,880.67 498.40,881.32 500.80,881.32 503.20,881.32 504.30,880.20 504.80,879.72 507.20,892.15 509.60,900.19 512.00,901.87 514.40,903.80 516.80,905.99 519.20,908.91 521.60,911.31 524.00,913.27 526.40,913.91 528.80,914.98 531.20,916.05 533.60,916.96 536.00,918.03 538.40,919.25 540.80,921.20 543.20,922.54 545.60,923.89 548.00,926.17 550.40,927.52 552.80,928.87 555.20,930.02 557.60,931.37 560.00,932.73 562.40,933.46 564.80,934.20 567.20,934.95 569.60,934.71 572.00,935.46 574.40,936.20 576.80,937.51 579.20,938.26 581.60,938.85 584.00,938.86 586.40,939.35 588.80,939.83 591.20,940.13 593.60,940.61 596.00,941.15 598.40,941.87 600.80,942.71 603.20,943.56 605.60,944.59 608.00,945.43 610.40,946.28 612.80,948.50 615.20,949.49 617.60,950.47 620.00,951.27 622.40,951.47 624.80,951.56 627.20,951.61 629.60,951.70 632.00,951.79 634.40,951.87 636.80,951.95 639.20,952.04 641.60,951.04 644.00,951.29 646.40,951.56 648.80,952.03 651.20,952.30 653.60,952.56 656.00,953.40 658.40,953.66 660.80,953.93 662.60,953.90" stroke="#3f57b3" stroke-width="6.0" fill="none" stroke-linejoin="round" stroke-linecap="butt"/>
<polyline points="131.20,1064.32 133.60,1059.11 136.00,1053.72 138.40,1048.65 140.80,1043.83 143.20,1039.03 145.60,1034.37 148.00,1031.37 150.40,1028.97 152.80,1026.95 155.20,1025.60 157.60,1025.13 160.00,1024.14 162.40,1020.65 164.80,1011.26 167.20,1005.31 169.60,999.35 172.00,996.60 174.40,991.52 176.80,988.76 179.20,986.01 181.60,983.48 184.00,979.27 186.40,975.14 188.80,973.09 191.20,969.80 193.60,967.02 196.00,963.99 198.40,961.73 200.80,959.47 203.20,957.86 205.60,955.29 208.00,952.23 210.40,947.11 212.80,944.04 215.20,940.98 217.60,938.97 220.00,936.06 222.40,933.15 224.80,929.66 227.20,927.11 229.60,925.16 232.00,923.98 234.40,922.03 236.80,920.08 239.20,918.09 241.60,915.66 244.00,913.23 246.40,909.35 248.80,907.37 251.20,906.01 253.60,905.19 256.00,903.83 258.40,902.48 260.80,897.69 263.20,895.93 265.60,894.16 268.00,894.06 270.40,892.30 272.80,890.54 275.20,888.38 277.60,886.71 280.00,885.35 282.40,882.42 284.80,881.07 287.20,879.71 289.60,880.12 292.00,878.91 294.40,877.70 296.80,874.77 299.20,873.56 301.60,872.29 304.00,872.21 306.40,870.88 308.80,869.56 311.20,866.96 313.60,865.63 316.00,864.31 318.40,862.69 320.80,861.39 323.20,860.10 325.60,861.06 328.00,859.76 330.40,858.47 332.80,855.45 335.20,854.37 337.60,853.54 340.00,852.72 342.40,851.90 344.80,851.07 347.20,852.23 349.60,851.41 352.00,850.58 354.40,849.46 356.80,848.56 359.20,847.67 361.60,845.25 364.00,844.36 366.40,843.46 368.80,844.32 371.20,843.42 373.60,842.86 376.00,841.67 378.40,841.57 380.80,841.47 383.20,841.74 385.60,841.64 388.00,841.55 390.40,840.22 392.80,840.02 395.20,838.64 397.60,839.17 400.00,837.79 402.40,836.41 404.80,834.47 407.20,834.12 409.60,833.78 412.00,834.15 414.40,833.81 416.80,833.46 419.20,832.93 421.60,832.58 424.00,832.24 426.40,830.31 428.80,829.51 431.20,828.70 433.60,828.06 436.00,827.25 438.40,826.45 440.80,825.14 443.20,824.33 445.60,823.83 448.00,823.78 450.40,823.78 452.80,823.78 455.20,823.57 457.60,823.57 460.00,823.57 462.40,824.18 464.80,823.24 467.20,821.84 469.60,821.21 472.00,819.80 474.40,819.48 476.80,817.81 479.20,817.70 481.60,817.59 484.00,819.24 486.40,819.13 488.80,818.80 491.20,817.30 493.60,816.68 496.00,816.58 498.40,816.51 500.80,816.51 503.20,816.51 504.30,817.00 504.80,817.53 507.20,840.21 509.60,847.37 512.00,854.59 514.40,859.91 516.80,864.75 519.20,868.50 521.60,871.40 524.00,874.30 526.40,876.79 528.80,879.66 531.20,882.53 533.60,884.92 536.00,888.35 538.40,891.88 540.80,896.61 543.20,900.15 545.60,901.95 548.00,903.33 550.40,905.06 552.80,906.78 555.20,908.77 557.60,909.97 560.00,911.17 562.40,911.67 564.80,912.87 567.20,914.55 569.60,916.95 572.00,918.64 574.40,920.32 576.80,921.11 579.20,922.79 581.60,924.19 584.00,926.34 586.40,927.54 588.80,928.74 591.20,929.81 593.60,931.01 596.00,932.18 598.40,932.64 600.80,933.66 603.20,934.68 605.60,935.93 608.00,936.61 610.40,937.12 612.80,937.89 615.20,938.40 617.60,939.03 620.00,939.35 622.40,940.55 624.80,941.75 627.20,943.25 629.60,943.40 632.00,943.56 634.40,944.17 636.80,944.33 639.20,944.66 641.60,944.71 644.00,945.74 646.40,946.76 648.80,948.75 651.20,949.55 653.60,950.27 656.00,950.77 658.40,951.48 660.80,952.20 662.60,952.40" stroke="#f47c20" stroke-width="6.0" fill="none" stroke-linejoin="round" stroke-linecap="butt"/>
<polyline points="131.20,1056.79 133.60,1050.19 136.00,1041.51 138.40,1037.00 140.80,1032.20 143.20,1027.40 145.60,1021.77 148.00,1020.55 150.40,1019.33 152.80,1018.93 155.20,1016.88 157.60,1014.84 160.00,1011.18 162.40,1001.61 164.80,988.85 167.20,981.41 169.60,974.90 172.00,968.84 174.40,964.70 176.80,958.47 179.20,952.23 181.60,943.94 184.00,939.14 186.40,934.34 188.80,930.67 191.20,925.87 193.60,921.07 196.00,915.79 198.40,911.01 200.80,906.25 203.20,901.47 205.60,896.11 208.00,890.45 210.40,884.90 212.80,879.70 215.20,876.76 217.60,873.04 220.00,870.10 222.40,867.17 224.80,865.89 227.20,862.99 229.60,860.14 232.00,855.37 234.40,852.52 236.80,849.67 239.20,847.38 241.60,845.28 244.00,843.18 246.40,840.52 248.80,838.42 251.20,836.32 253.60,834.86 256.00,832.76 258.40,830.76 260.80,829.20 263.20,827.29 265.60,825.37 268.00,824.74 270.40,822.82 272.80,820.98 275.20,818.33 277.60,817.03 280.00,815.74 282.40,813.75 284.80,812.45 287.20,811.16 289.60,810.24 292.00,808.94 294.40,807.54 296.80,808.01 299.20,806.58 301.60,805.14 304.00,801.29 306.40,799.86 308.80,798.66 311.20,799.31 313.60,798.51 316.00,797.71 318.40,796.28 320.80,795.48 323.20,794.68 325.60,794.62 328.00,793.82 330.40,793.02 332.80,791.38 335.20,790.58 337.60,789.78 340.00,789.90 342.40,789.10 344.80,788.30 347.20,786.99 349.60,786.19 352.00,785.39 354.40,784.96 356.80,783.94 359.20,782.92 361.60,782.56 364.00,781.54 366.40,780.52 368.80,778.66 371.20,777.64 373.60,776.62 376.00,774.67 378.40,773.91 380.80,773.16 383.20,772.20 385.60,771.44 388.00,770.68 390.40,772.22 392.80,771.46 395.20,770.70 397.60,768.75 400.00,768.47 402.40,768.47 404.80,767.70 407.20,767.70 409.60,767.70 412.00,769.66 414.40,769.38 416.80,768.03 419.20,765.73 421.60,764.39 424.00,763.04 426.40,762.15 428.80,761.65 431.20,761.14 433.60,761.03 436.00,760.52 438.40,760.02 440.80,757.96 443.20,757.46 445.60,756.92 448.00,756.50 450.40,755.90 452.80,755.29 455.20,756.05 457.60,755.44 460.00,754.84 462.40,752.31 464.80,751.70 467.20,751.32 469.60,752.88 472.00,752.80 474.40,752.72 476.80,750.91 479.20,750.83 481.60,750.75 484.00,752.22 486.40,752.14 488.80,751.80 491.20,751.14 493.60,750.44 496.00,749.74 498.40,749.68 500.80,748.99 503.20,748.29 503.60,747.00 504.00,746.93 506.40,782.20 508.80,796.51 511.20,806.61 513.60,816.07 516.00,824.57 518.40,832.64 520.80,838.64 523.20,844.40 525.60,851.48 528.00,856.80 530.40,861.93 532.80,865.51 535.20,870.65 537.60,875.70 540.00,881.36 542.40,886.12 544.80,890.26 547.20,894.75 549.60,898.52 552.00,902.05 554.40,903.79 556.80,907.00 559.20,910.21 561.60,913.46 564.00,915.27 566.40,917.09 568.80,919.01 571.20,920.83 573.60,923.46 576.00,926.02 578.40,928.32 580.80,929.52 583.20,931.33 585.60,932.53 588.00,933.74 590.40,935.65 592.80,936.97 595.20,938.30 597.60,939.17 600.00,940.49 602.40,941.82 604.80,943.05 607.20,943.45 609.60,943.85 612.00,943.22 614.40,943.62 616.80,944.02 619.20,945.34 621.60,946.68 624.00,948.02 626.40,949.13 628.80,950.47 631.20,951.71 633.60,952.50 636.00,952.59 638.40,952.67 640.80,953.50 643.20,953.59 645.60,953.67 648.00,953.15 650.40,953.24 652.80,953.38 655.20,953.88 657.60,954.05 660.00,954.21 662.40,953.68 662.60,953.90" stroke="#6b45b0" stroke-width="6.0" fill="none" stroke-linejoin="round" stroke-linecap="butt"/>
<path d="M130.10 649.80 H664.50 V1086.00 H130.10 Z" stroke="#000" stroke-width="3.0" fill="none" stroke-linejoin="miter"/>
<line x1="121.60" y1="1086.00" x2="130.10" y2="1086.00" stroke="#000" stroke-width="3.0" />
<text x="116.30" y="1094.50" class="b" font-size="25.50" text-anchor="end" >0</text>
<line x1="121.60" y1="1037.53" x2="130.10" y2="1037.53" stroke="#000" stroke-width="3.0" />
<text x="116.30" y="1046.03" class="b" font-size="25.50" text-anchor="end" >100</text>
<line x1="121.60" y1="989.07" x2="130.10" y2="989.07" stroke="#000" stroke-width="3.0" />
<text x="116.30" y="997.57" class="b" font-size="25.50" text-anchor="end" >200</text>
<line x1="121.60" y1="940.60" x2="130.10" y2="940.60" stroke="#000" stroke-width="3.0" />
<text x="116.30" y="949.10" class="b" font-size="25.50" text-anchor="end" >300</text>
<line x1="121.60" y1="892.13" x2="130.10" y2="892.13" stroke="#000" stroke-width="3.0" />
<text x="116.30" y="900.63" class="b" font-size="25.50" text-anchor="end" >400</text>
<line x1="121.60" y1="843.67" x2="130.10" y2="843.67" stroke="#000" stroke-width="3.0" />
<text x="116.30" y="852.17" class="b" font-size="25.50" text-anchor="end" >500</text>
<line x1="121.60" y1="795.20" x2="130.10" y2="795.20" stroke="#000" stroke-width="3.0" />
<text x="116.30" y="803.70" class="b" font-size="25.50" text-anchor="end" >600</text>
<line x1="121.60" y1="746.73" x2="130.10" y2="746.73" stroke="#000" stroke-width="3.0" />
<text x="116.30" y="755.23" class="b" font-size="25.50" text-anchor="end" >700</text>
<line x1="121.60" y1="698.27" x2="130.10" y2="698.27" stroke="#000" stroke-width="3.0" />
<text x="116.30" y="706.77" class="b" font-size="25.50" text-anchor="end" >800</text>
<line x1="121.60" y1="649.80" x2="130.10" y2="649.80" stroke="#000" stroke-width="3.0" />
<text x="116.30" y="658.30" class="b" font-size="25.50" text-anchor="end" >900</text>
<line x1="130.10" y1="1086.00" x2="130.10" y2="1094.50" stroke="#000" stroke-width="3.0" />
<text x="130.10" y="1121.50" class="b" font-size="25.50" text-anchor="middle" >0.0</text>
<line x1="219.17" y1="1086.00" x2="219.17" y2="1094.50" stroke="#000" stroke-width="3.0" />
<text x="219.17" y="1121.50" class="b" font-size="25.50" text-anchor="middle" >0.5</text>
<line x1="308.23" y1="1086.00" x2="308.23" y2="1094.50" stroke="#000" stroke-width="3.0" />
<text x="308.23" y="1121.50" class="b" font-size="25.50" text-anchor="middle" >1.0</text>
<line x1="397.30" y1="1086.00" x2="397.30" y2="1094.50" stroke="#000" stroke-width="3.0" />
<text x="397.30" y="1121.50" class="b" font-size="25.50" text-anchor="middle" >1.5</text>
<line x1="486.37" y1="1086.00" x2="486.37" y2="1094.50" stroke="#000" stroke-width="3.0" />
<text x="486.37" y="1121.50" class="b" font-size="25.50" text-anchor="middle" >2.0</text>
<line x1="575.43" y1="1086.00" x2="575.43" y2="1094.50" stroke="#000" stroke-width="3.0" />
<text x="575.43" y="1121.50" class="b" font-size="25.50" text-anchor="middle" >2.5</text>
<line x1="664.50" y1="1086.00" x2="664.50" y2="1094.50" stroke="#000" stroke-width="3.0" />
<text x="664.50" y="1121.50" class="b" font-size="25.50" text-anchor="middle" >3.0</text>
<text x="398.50" y="1160.00" class="b" font-size="36.20" text-anchor="middle" >Time (s)</text>
<text class="b" font-size="37.80" text-anchor="middle" transform="translate(50.30 869.40) rotate(-90)" >EPSC (μA)</text>
<rect x="206.60" y="656.70" width="383.60" height="36.50" fill="#fff" stroke="none" stroke-width="1" />
<polyline points="206.60,693.20 206.60,656.70 590.20,656.70" stroke="#b9b9b9" stroke-width="2.2" fill="none" stroke-linejoin="miter" stroke-linecap="square"/>
<polyline points="206.60,693.20 590.20,693.20 590.20,656.70" stroke="#3a3535" stroke-width="2.2" fill="none" stroke-linejoin="miter" stroke-linecap="square"/>
<line x1="209.30" y1="675.40" x2="264.70" y2="675.40" stroke="#3f57b3" stroke-width="5.5" />
<text class="b" font-size="23.00" text-anchor="start" transform="translate(267.20 682.80) scale(0.9850 1)" >15.2 N</text>
<line x1="339.90" y1="675.40" x2="389.90" y2="675.40" stroke="#f47c20" stroke-width="5.5" />
<text class="b" font-size="23.00" text-anchor="start" transform="translate(395.00 682.80) scale(0.9850 1)" >25.1 N</text>
<line x1="467.70" y1="675.40" x2="517.80" y2="675.40" stroke="#6b45b0" stroke-width="5.5" />
<text class="b" font-size="23.00" text-anchor="start" transform="translate(523.00 682.80) scale(0.9850 1)" >30.4 N</text>
<line x1="147.80" y1="708.90" x2="489.80" y2="708.90" stroke="#0a0a0a" stroke-width="2.2" /><polygon points="137.80,708.90 154.80,704.50 154.80,713.30" fill="#0a0a0a"/><polygon points="499.80,708.90 482.80,704.50 482.80,713.30" fill="#0a0a0a"/>
<line x1="525.00" y1="709.20" x2="646.00" y2="709.20" stroke="#0a0a0a" stroke-width="2.2" /><polygon points="515.00,709.20 532.00,704.80 532.00,713.60" fill="#0a0a0a"/><polygon points="656.00,709.20 639.00,704.80 639.00,713.60" fill="#0a0a0a"/>
<text x="317.40" y="739.40" class="b" font-size="22.80" text-anchor="middle" style="fill:#3f57b3;stroke:#3f57b3">Applied pressure</text>
<text x="586.00" y="739.00" class="b" font-size="22.60" text-anchor="middle" >Removed</text></g>
<!-- 40_d.py -->
<g id="panel-d"><text x="688.30" y="659.30" font-size="61.00" text-anchor="start" >(d)</text>
<line x1="816.34" y1="1040.75" x2="1014.56" y2="880.11" stroke="#d2d2d2" stroke-width="1.0" />
<line x1="884.25" y1="1050.59" x2="1067.33" y2="885.54" stroke="#d2d2d2" stroke-width="1.0" />
<line x1="954.35" y1="1060.76" x2="1121.36" y2="891.10" stroke="#d2d2d2" stroke-width="1.0" />
<line x1="1026.73" y1="1071.25" x2="1176.68" y2="896.79" stroke="#d2d2d2" stroke-width="1.0" />
<line x1="1101.50" y1="1082.09" x2="1233.34" y2="902.62" stroke="#d2d2d2" stroke-width="1.0" />
<line x1="815.96" y1="983.02" x2="1214.09" y2="1035.41" stroke="#d2d2d2" stroke-width="1.0" />
<line x1="872.02" y1="941.76" x2="1243.88" y2="986.55" stroke="#d2d2d2" stroke-width="1.0" />
<line x1="920.56" y1="906.04" x2="1269.36" y2="944.75" stroke="#d2d2d2" stroke-width="1.0" />
<line x1="1014.74" y1="880.13" x2="1014.34" y2="668.14" stroke="#d2d2d2" stroke-width="1.0" />
<line x1="1067.63" y1="885.57" x2="1069.21" y2="671.36" stroke="#d2d2d2" stroke-width="1.0" />
<line x1="1121.69" y1="891.13" x2="1125.36" y2="674.65" stroke="#d2d2d2" stroke-width="1.0" />
<line x1="1176.98" y1="896.82" x2="1182.83" y2="678.02" stroke="#d2d2d2" stroke-width="1.0" />
<line x1="1233.54" y1="902.64" x2="1241.66" y2="681.47" stroke="#d2d2d2" stroke-width="1.0" />
<line x1="962.68" y1="845.75" x2="1292.85" y2="877.70" stroke="#d2d2d2" stroke-width="1.0" />
<line x1="748.65" y1="993.41" x2="962.68" y2="845.73" stroke="#d2d2d2" stroke-width="1.0" />
<line x1="962.36" y1="816.39" x2="1294.32" y2="846.47" stroke="#d2d2d2" stroke-width="1.0" />
<line x1="746.77" y1="955.12" x2="962.36" y2="816.37" stroke="#d2d2d2" stroke-width="1.0" />
<line x1="962.03" y1="786.74" x2="1295.80" y2="814.89" stroke="#d2d2d2" stroke-width="1.0" />
<line x1="744.87" y1="916.30" x2="962.03" y2="786.71" stroke="#d2d2d2" stroke-width="1.0" />
<line x1="961.71" y1="756.78" x2="1297.30" y2="782.95" stroke="#d2d2d2" stroke-width="1.0" />
<line x1="742.94" y1="876.95" x2="961.71" y2="756.75" stroke="#d2d2d2" stroke-width="1.0" />
<line x1="961.37" y1="726.50" x2="1298.82" y2="750.67" stroke="#d2d2d2" stroke-width="1.0" />
<line x1="740.99" y1="837.06" x2="961.37" y2="726.48" stroke="#d2d2d2" stroke-width="1.0" />
<line x1="961.04" y1="695.91" x2="1300.35" y2="718.02" stroke="#d2d2d2" stroke-width="1.0" />
<line x1="739.01" y1="796.61" x2="961.04" y2="695.90" stroke="#d2d2d2" stroke-width="1.0" />
<line x1="815.90" y1="983.07" x2="806.43" y2="727.48" stroke="#d2d2d2" stroke-width="1.0" />
<line x1="871.95" y1="941.82" x2="865.51" y2="703.55" stroke="#d2d2d2" stroke-width="1.0" />
<line x1="920.51" y1="906.07" x2="916.41" y2="682.94" stroke="#d2d2d2" stroke-width="1.0" />
<line x1="737.00" y1="755.60" x2="960.70" y2="665.00" stroke="#4a4a4a" stroke-width="1.1" />
<line x1="960.70" y1="665.00" x2="1301.90" y2="685.00" stroke="#4a4a4a" stroke-width="1.1" />
<line x1="1301.90" y1="685.00" x2="1291.40" y2="908.60" stroke="#4a4a4a" stroke-width="1.1" />
<line x1="963.00" y1="874.80" x2="960.70" y2="665.00" stroke="#4a4a4a" stroke-width="1.1" />
<line x1="750.50" y1="1031.20" x2="963.00" y2="874.80" stroke="#4a4a4a" stroke-width="1.1" />
<line x1="963.00" y1="874.80" x2="1291.40" y2="908.60" stroke="#4a4a4a" stroke-width="1.1" />
<polyline points="948.60,875.11 950.60,865.56 952.60,860.49 954.60,857.54 956.60,855.25 958.60,853.85 960.60,852.01 962.60,851.00 964.60,850.06 966.60,842.97 968.60,837.65 970.60,835.12 972.60,831.87 974.60,829.11 976.60,826.48 978.60,823.27 980.60,820.55 982.60,818.26 984.60,816.26 986.60,813.77 988.60,809.20 990.60,805.90 992.60,803.90 994.60,801.62 996.60,798.96 998.60,796.68 1000.60,795.70 1002.60,793.28 1004.60,790.51 1006.60,787.96 1008.60,784.23 1010.60,781.68 1012.60,780.90 1014.60,779.17 1016.60,777.42 1018.60,775.70 1020.60,773.42 1022.60,771.69 1024.60,769.97 1026.60,768.34 1028.60,765.89 1030.60,764.27 1032.60,762.38 1034.60,760.76 1036.60,760.13 1038.60,758.63 1040.60,756.29 1042.60,754.80 1044.60,753.54 1046.60,752.04 1048.60,750.87 1050.60,749.96 1052.60,748.67 1054.60,747.76 1056.60,747.64 1058.60,746.73 1060.60,745.77 1062.60,744.87 1064.60,744.62 1066.60,743.63 1068.60,742.06 1070.60,741.06 1072.60,740.29 1074.60,739.30 1076.60,738.23 1078.60,737.56 1080.60,737.18 1082.60,736.51 1084.60,735.47 1086.60,734.80 1088.60,733.81 1090.60,733.14 1092.60,733.76 1094.60,733.11 1096.60,732.49 1098.60,731.87 1100.60,730.97 1102.60,730.36 1104.60,729.50 1106.60,728.92 1108.60,727.88 1110.60,727.55 1112.60,727.06 1114.60,726.72 1116.60,726.49 1118.60,726.16 1120.60,725.43 1122.60,725.10 1124.60,726.01 1126.60,725.49 1128.60,724.29 1130.60,723.75 1132.60,724.02 1134.60,723.48 1136.60,722.11 1138.60,721.57 1140.60,722.06 1142.60,721.52 1144.60,720.78 1146.60,720.47 1148.60,718.66 1150.60,718.37 1152.60,718.46 1154.60,718.17 1156.60,719.14 1158.60,718.86 1160.60,717.78 1162.60,717.49 1164.60,718.12 1166.60,717.86 1168.60,716.73 1170.60,716.65 1172.60,715.98 1174.60,715.90 1176.60,716.83 1178.60,716.75 1180.60,716.93 1182.60,716.85 1184.60,715.86 1186.60,715.77 1188.60,715.31 1190.60,715.18 1192.60,715.50 1194.60,715.37 1196.60,716.37 1198.60,716.24 1200.60,715.74 1202.60,715.61 1204.60,714.33 1206.60,714.20 1208.60,714.30 1210.60,714.15 1212.60,713.70 1214.60,713.53 1216.60,713.27 1218.60,713.09 1220.60,714.24 1222.60,714.06 1224.60,712.77 1226.60,712.59 1228.60,713.10 1230.60,712.92 1232.60,712.54 1234.60,712.36 1236.60,711.72 1238.60,711.54 1240.60,712.31 1242.60,712.10 1244.60,710.81 1246.60,710.60 1248.60,711.31 1250.60,711.10 1252.60,710.15 1254.60,710.20 1256.60,710.80 1258.60,710.85 1260.60,710.52 1262.60,710.57 1264.60,710.72 1266.60,710.77 1267.10,711.20 1267.50,711.16 1269.50,734.11 1271.50,741.74 1273.50,747.28 1275.50,752.83 1277.50,757.81 1279.50,759.66 1281.50,762.36 1283.50,765.25 1285.50,768.40 1286.40,770.60" stroke="#2f8132" stroke-width="4.6" fill="none" stroke-linejoin="round" stroke-linecap="round"/>
<polyline points="863.30,936.07 865.30,928.28 867.30,921.80 869.30,919.44 871.30,917.13 873.30,915.13 875.30,913.43 877.30,911.43 879.30,908.23 881.30,904.03 883.30,898.12 885.30,895.44 887.30,892.62 889.30,889.94 891.30,887.41 893.30,884.43 895.30,881.92 897.30,878.50 899.30,873.99 901.30,870.56 903.30,867.86 905.30,865.00 907.30,861.58 909.30,858.73 911.30,856.02 913.30,853.17 915.30,850.91 917.30,848.63 919.30,847.09 921.30,844.81 923.30,842.12 925.30,839.94 927.30,837.09 929.30,835.30 931.30,833.99 933.30,832.21 935.30,830.19 937.30,828.41 939.30,827.94 941.30,826.17 943.30,824.28 945.30,822.51 947.30,820.73 949.30,818.95 951.30,817.03 953.30,815.08 955.30,812.97 957.30,811.01 959.30,809.81 961.30,808.82 963.30,807.55 965.30,806.56 967.30,804.60 969.30,803.61 971.30,803.59 973.30,802.25 975.30,800.24 977.30,798.90 979.30,798.03 981.30,797.02 983.30,795.84 985.30,795.01 987.30,793.93 989.30,793.10 991.30,792.15 993.30,791.32 995.30,790.61 997.30,789.77 999.30,788.75 1001.30,787.98 1003.30,786.85 1005.30,786.07 1007.30,786.56 1009.30,785.78 1011.30,784.96 1013.30,784.29 1015.30,784.08 1017.30,783.52 1019.30,782.44 1021.30,781.89 1023.30,781.10 1025.30,780.55 1027.30,780.37 1029.30,779.86 1031.30,778.25 1033.30,777.74 1035.30,778.21 1037.30,777.70 1039.30,776.77 1041.30,776.26 1043.30,775.27 1045.30,774.79 1047.30,774.43 1049.30,774.02 1051.30,774.19 1053.30,773.77 1055.30,772.88 1057.30,772.47 1059.30,772.43 1061.30,772.02 1063.30,771.90 1065.30,772.03 1067.30,771.78 1069.30,771.91 1071.30,771.56 1073.30,771.69 1075.30,772.47 1077.30,771.70 1079.30,770.37 1081.30,769.50 1083.30,768.63 1085.30,767.76 1087.30,767.06 1089.30,766.67 1091.30,766.59 1093.30,766.20 1095.30,765.60 1097.30,765.72 1099.30,766.87 1099.40,766.60 1099.80,765.97 1101.80,786.99 1103.80,794.27 1105.80,799.41 1107.80,803.29 1109.80,807.26 1111.80,811.49 1113.80,814.97 1115.80,817.37 1117.80,820.64 1119.80,823.50 1121.80,826.37 1123.80,830.02 1125.80,832.90 1127.80,835.65 1129.80,837.45 1131.80,838.68 1133.80,840.48 1135.80,842.88 1137.80,844.68 1139.80,846.02 1141.80,847.82 1143.80,850.24 1145.80,852.06 1147.80,852.82 1149.80,854.64 1151.80,856.62 1153.80,858.44 1155.80,860.98 1157.80,862.14 1159.80,862.44 1161.80,863.60 1163.80,864.63 1165.80,865.89 1167.80,868.02 1169.80,869.28 1171.80,870.27 1173.80,871.53 1175.80,872.02 1177.80,873.15 1179.80,874.68 1181.80,875.57 1183.80,876.63 1185.80,877.52 1187.80,877.61 1189.80,878.48 1191.80,880.13 1193.80,880.99 1195.80,881.01 1197.80,881.87 1199.80,883.08 1201.80,883.94 1203.80,884.40 1205.80,885.13 1207.80,885.90 1209.80,886.49 1211.80,888.31 1213.80,888.89 1215.80,888.56 1217.80,889.14 1219.80,890.67 1221.80,892.06 1223.80,892.30 1225.80,892.30 1227.80,892.57 1229.80,892.57 1231.80,893.00 1233.80,893.35 1235.80,893.61 1237.80,894.16 1239.40,894.30" stroke="#f47c20" stroke-width="5.3" fill="none" stroke-linejoin="round" stroke-linecap="round"/>
<polyline points="752.40,1018.64 754.40,1009.46 756.40,1004.06 758.40,998.14 760.40,996.03 762.40,994.03 764.40,990.82 766.40,988.82 768.40,987.23 770.40,983.75 772.40,980.15 774.40,976.76 776.40,973.63 778.40,970.58 780.40,966.57 782.40,963.72 784.40,960.72 786.40,957.87 788.40,955.66 790.40,952.80 792.40,950.85 794.40,948.34 796.40,944.93 798.40,942.41 800.40,940.34 802.40,937.74 804.40,934.64 806.40,931.88 808.40,930.06 810.40,927.30 812.40,924.71 814.40,922.08 816.40,919.01 818.40,916.91 820.40,915.89 822.40,913.80 824.40,910.02 826.40,907.92 828.40,907.18 830.40,905.09 832.40,903.56 834.40,902.08 836.40,899.29 838.40,897.81 840.40,897.29 842.40,895.54 844.40,893.52 846.40,891.76 848.40,890.72 850.40,888.96 852.40,885.87 854.40,884.59 856.40,883.93 858.40,882.68 860.40,882.04 862.40,880.79 864.40,879.10 866.40,877.71 868.40,875.69 870.40,874.26 872.40,872.43 874.40,871.00 876.40,871.40 878.40,870.68 880.40,869.12 882.40,868.40 884.40,868.62 886.40,867.00 886.90,866.49 888.90,880.16 890.90,886.61 892.90,891.86 894.90,894.82 896.90,898.30 898.90,901.45 900.90,903.80 902.90,906.61 904.90,908.96 906.90,911.32 908.90,913.36 910.90,915.08 912.90,916.82 914.90,918.53 916.90,920.27 918.90,921.70 920.90,923.30 922.90,924.53 924.90,925.79 926.90,927.74 928.90,928.99 930.90,929.65 932.90,930.93 934.90,932.87 936.90,934.25 938.90,935.81 940.90,937.20 942.90,938.70 944.90,940.09 946.90,941.64 948.90,943.08 950.90,943.37 952.90,944.76 954.90,946.04 956.90,947.32 958.90,949.39 960.90,950.67 962.90,951.69 964.90,952.30 966.90,952.24 968.90,952.78 970.90,954.08 972.90,954.62 974.90,955.85 976.90,957.14 978.90,958.38 980.90,959.67 982.90,959.98 984.90,961.17 986.90,961.53 988.90,961.76 990.90,961.52 992.90,961.75 994.90,963.53 996.90,963.76 998.90,962.79 1000.90,963.02 1002.90,964.06 1004.90,964.38 1006.90,965.24 1008.90,966.40 1010.90,967.65 1012.90,968.81 1014.90,969.45 1016.90,969.70 1018.90,970.42 1020.90,970.66 1022.90,970.55 1024.90,970.79 1026.90,970.56 1028.90,970.80 1030.90,970.74 1032.90,970.99 1034.90,971.81 1036.90,972.06 1038.90,973.20 1040.90,974.68 1042.90,974.91 1044.90,975.31 1046.90,976.39 1048.90,976.60 1050.90,976.73 1052.90,976.95 1054.90,976.41 1056.90,976.62 1058.90,976.91 1060.90,977.12 1062.90,978.10 1064.90,978.32 1066.90,978.13 1068.90,978.35 1070.90,978.52 1072.90,978.74 1074.90,979.08 1076.90,979.31 1078.90,978.93 1080.90,979.15 1082.90,980.34 1084.90,980.56 1086.90,980.60 1088.90,980.82 1090.90,980.96 1092.90,981.18 1094.90,981.10 1096.90,981.32 1098.90,981.94 1100.90,981.77 1102.90,981.62 1104.90,981.45 1106.90,981.04 1108.90,981.71 1110.90,981.66 1112.90,982.33 1114.90,983.10 1116.90,983.47 1118.90,983.67 1120.90,983.87 1122.90,983.95 1124.90,984.15 1126.90,985.26 1128.90,985.46 1130.90,985.49 1132.90,985.69 1134.90,985.35 1136.90,985.55 1138.90,986.91 1140.90,987.40 1142.90,987.44 1144.90,987.94 1146.90,988.45 1148.90,987.97 1150.90,987.53 1152.90,987.04 1154.90,986.34 1156.90,985.86 1158.90,986.21 1160.90,986.98 1162.90,988.50 1164.90,989.28 1166.90,988.09 1168.90,988.27 1170.90,989.34 1172.90,989.52 1174.90,990.01 1176.90,990.19 1177.20,989.60" stroke="#6b45b0" stroke-width="6.2" fill="none" stroke-linejoin="round" stroke-linecap="round"/>
<polyline points="737.00,755.60 750.50,1031.20 1178.80,1093.30 1291.40,908.60" stroke="#000" stroke-width="2.0" fill="none" stroke-linejoin="miter" stroke-linecap="butt"/>
<line x1="748.65" y1="993.41" x2="743.05" y2="995.01" stroke="#000" stroke-width="1.8" />
<text font-size="20.50" text-anchor="end" transform="matrix(0.5200 -0.2100 -0.0800 1.0000 740.65 1005.21)" stroke="#111" stroke-width="0.8">100</text>
<line x1="746.77" y1="955.12" x2="741.17" y2="956.72" stroke="#000" stroke-width="1.8" />
<text font-size="20.50" text-anchor="end" transform="matrix(0.5200 -0.2100 -0.0800 1.0000 738.77 966.92)" stroke="#111" stroke-width="0.8">200</text>
<line x1="744.87" y1="916.30" x2="739.27" y2="917.90" stroke="#000" stroke-width="1.8" />
<text font-size="20.50" text-anchor="end" transform="matrix(0.5200 -0.2100 -0.0800 1.0000 736.87 928.10)" stroke="#111" stroke-width="0.8">300</text>
<line x1="742.94" y1="876.95" x2="737.34" y2="878.55" stroke="#000" stroke-width="1.8" />
<text font-size="20.50" text-anchor="end" transform="matrix(0.5200 -0.2100 -0.0800 1.0000 734.94 888.75)" stroke="#111" stroke-width="0.8">400</text>
<line x1="740.99" y1="837.06" x2="735.39" y2="838.66" stroke="#000" stroke-width="1.8" />
<text font-size="20.50" text-anchor="end" transform="matrix(0.5200 -0.2100 -0.0800 1.0000 732.99 848.86)" stroke="#111" stroke-width="0.8">500</text>
<line x1="739.01" y1="796.61" x2="733.41" y2="798.21" stroke="#000" stroke-width="1.8" />
<text font-size="20.50" text-anchor="end" transform="matrix(0.5200 -0.2100 -0.0800 1.0000 731.01 808.41)" stroke="#111" stroke-width="0.8">600</text>
<line x1="737.00" y1="755.60" x2="731.40" y2="757.20" stroke="#000" stroke-width="1.8" />
<text font-size="20.50" text-anchor="end" transform="matrix(0.5200 -0.2100 -0.0800 1.0000 729.00 767.40)" stroke="#111" stroke-width="0.8">700</text>
<line x1="750.50" y1="1031.20" x2="747.10" y2="1034.80" stroke="#000" stroke-width="1.7" />
<text font-size="20.40" text-anchor="end" transform="matrix(0.5160 -0.3980 0.9900 0.1420 753.70 1036.60)" stroke="#111" stroke-width="0.7">0.0</text>
<line x1="816.34" y1="1040.75" x2="812.94" y2="1044.35" stroke="#000" stroke-width="1.7" />
<text font-size="20.40" text-anchor="end" transform="matrix(0.5160 -0.3980 0.9900 0.1420 819.54 1046.15)" stroke="#111" stroke-width="0.7">0.5</text>
<line x1="884.25" y1="1050.59" x2="880.85" y2="1054.19" stroke="#000" stroke-width="1.7" />
<text font-size="20.40" text-anchor="end" transform="matrix(0.5160 -0.3980 0.9900 0.1420 887.45 1055.99)" stroke="#111" stroke-width="0.7">1.0</text>
<line x1="954.35" y1="1060.76" x2="950.95" y2="1064.36" stroke="#000" stroke-width="1.7" />
<text font-size="20.40" text-anchor="end" transform="matrix(0.5160 -0.3980 0.9900 0.1420 957.55 1066.16)" stroke="#111" stroke-width="0.7">1.5</text>
<line x1="1026.73" y1="1071.25" x2="1023.33" y2="1074.85" stroke="#000" stroke-width="1.7" />
<text font-size="20.40" text-anchor="end" transform="matrix(0.5160 -0.3980 0.9900 0.1420 1029.93 1076.65)" stroke="#111" stroke-width="0.7">2.0</text>
<line x1="1101.50" y1="1082.09" x2="1098.10" y2="1085.69" stroke="#000" stroke-width="1.7" />
<text font-size="20.40" text-anchor="end" transform="matrix(0.5160 -0.3980 0.9900 0.1420 1104.70 1087.49)" stroke="#111" stroke-width="0.7">2.5</text>
<line x1="1178.80" y1="1093.30" x2="1175.40" y2="1096.90" stroke="#000" stroke-width="1.7" />
<text font-size="20.40" text-anchor="end" transform="matrix(0.5160 -0.3980 0.9900 0.1420 1182.00 1098.70)" stroke="#111" stroke-width="0.7">3.0</text>
<line x1="783.17" y1="1035.94" x2="781.77" y2="1038.14" stroke="#000" stroke-width="1.2" />
<line x1="850.03" y1="1045.63" x2="848.63" y2="1047.83" stroke="#000" stroke-width="1.2" />
<line x1="919.02" y1="1055.63" x2="917.62" y2="1057.83" stroke="#000" stroke-width="1.2" />
<line x1="990.25" y1="1065.96" x2="988.85" y2="1068.16" stroke="#000" stroke-width="1.2" />
<line x1="1063.81" y1="1076.63" x2="1062.41" y2="1078.83" stroke="#000" stroke-width="1.2" />
<line x1="1139.83" y1="1087.65" x2="1138.43" y2="1089.85" stroke="#000" stroke-width="1.2" />
<line x1="1178.80" y1="1093.30" x2="1185.80" y2="1094.10" stroke="#000" stroke-width="1.9" />
<text class="b i" font-size="20.00" text-anchor="start" transform="matrix(0.9200 0.0930 -0.2200 0.3800 1190.30 1096.90)" >1.0</text>
<line x1="1214.09" y1="1035.41" x2="1221.09" y2="1036.21" stroke="#000" stroke-width="1.9" />
<text class="b i" font-size="20.00" text-anchor="start" transform="matrix(0.9200 0.0930 -0.2200 0.3800 1225.59 1039.01)" >1.5</text>
<line x1="1243.88" y1="986.55" x2="1250.88" y2="987.35" stroke="#000" stroke-width="1.9" />
<text class="b i" font-size="20.00" text-anchor="start" transform="matrix(0.9200 0.0930 -0.2200 0.3800 1255.38 990.15)" >2.0</text>
<line x1="1269.36" y1="944.75" x2="1276.36" y2="945.55" stroke="#000" stroke-width="1.9" />
<text class="b i" font-size="20.00" text-anchor="start" transform="matrix(0.9200 0.0930 -0.2200 0.3800 1280.86 948.35)" >2.5</text>
<line x1="1291.40" y1="908.60" x2="1298.40" y2="909.40" stroke="#000" stroke-width="1.9" />
<text class="b i" font-size="20.00" text-anchor="start" transform="matrix(0.9200 0.0930 -0.2200 0.3800 1302.90 912.20)" >3.0</text>
<text class="b" font-size="30.00" text-anchor="start" transform="matrix(1.1280 0.1640 -0.3300 0.4750 883.00 1083.80)" >Time (s)</text>
<text font-size="33.00" text-anchor="start" transform="matrix(0.1753 -0.3595 0.9900 0.1400 1283.90 1045.20)" >Pressure duration (s)</text>
<text class="b" font-size="34.00" text-anchor="start" transform="matrix(-0.0500 -1.0000 0.5400 -0.3000 717.00 996.00)" >EPSC (μA)</text>
<rect x="753.90" y="762.80" width="112.00" height="71.10" fill="#bdbdbd" stroke="none" stroke-width="0" fill-opacity="0.88"/>
<path d="M753.9 762.8 H865.9 L863.7 765.0 H756.1 V831.7 L753.9 833.9 Z" stroke="none" stroke-width="1" fill="#e6e6e6" />
<path d="M865.9 762.8 V833.9 H753.9 L756.1 831.7 H863.7 V765.0 Z" stroke="none" stroke-width="1" fill="#a9a9a9" />
<line x1="755.50" y1="775.90" x2="800.90" y2="775.90" stroke="#6b45b0" stroke-width="6.6" />
<text x="807.00" y="781.60" class="b" font-size="17.00" text-anchor="start" >1.0 s</text>
<line x1="758.50" y1="797.70" x2="797.80" y2="797.70" stroke="#f47c20" stroke-width="6.6" />
<text x="807.00" y="803.40" class="b" font-size="17.00" text-anchor="start" >1.9 s</text>
<line x1="758.50" y1="819.60" x2="797.80" y2="819.60" stroke="#2f8132" stroke-width="6.6" />
<text x="807.00" y="825.30" class="b" font-size="17.00" text-anchor="start" >2.8 s</text></g>
<!-- 50_e.py -->
<g id="panel-e"><defs><radialGradient id="gred" cx="0.38" cy="0.32" r="0.75"><stop offset="0" stop-color="#fff"/><stop offset="0.14" stop-color="#f58a80"/><stop offset="0.4" stop-color="#dc2a1e"/><stop offset="1" stop-color="#9c1410"/></radialGradient><radialGradient id="gblue" cx="0.38" cy="0.32" r="0.75"><stop offset="0" stop-color="#fff"/><stop offset="0.14" stop-color="#8d9be0"/><stop offset="0.4" stop-color="#3242b0"/><stop offset="1" stop-color="#1a2478"/></radialGradient></defs>
<text x="1345.20" y="659.30" font-size="61.00" text-anchor="start" >(e)</text>
<line x1="1450.02" y1="1054.20" x2="1674.31" y2="989.36" stroke="#b4b4b4" stroke-width="1.2" stroke-dasharray="5.2 4.2"/>
<line x1="1474.50" y1="1060.98" x2="1698.91" y2="994.18" stroke="#b4b4b4" stroke-width="1.2" stroke-dasharray="5.2 4.2"/>
<line x1="1499.88" y1="1068.01" x2="1724.28" y2="999.16" stroke="#b4b4b4" stroke-width="1.2" stroke-dasharray="5.2 4.2"/>
<line x1="1526.23" y1="1075.31" x2="1750.47" y2="1004.30" stroke="#b4b4b4" stroke-width="1.2" stroke-dasharray="5.2 4.2"/>
<line x1="1553.58" y1="1082.89" x2="1777.53" y2="1009.61" stroke="#b4b4b4" stroke-width="1.2" stroke-dasharray="5.2 4.2"/>
<line x1="1582.01" y1="1090.76" x2="1805.48" y2="1015.10" stroke="#b4b4b4" stroke-width="1.2" stroke-dasharray="5.2 4.2"/>
<line x1="1611.57" y1="1098.95" x2="1834.39" y2="1020.77" stroke="#b4b4b4" stroke-width="1.2" stroke-dasharray="5.2 4.2"/>
<line x1="1642.34" y1="1107.47" x2="1864.29" y2="1026.64" stroke="#b4b4b4" stroke-width="1.2" stroke-dasharray="5.2 4.2"/>
<line x1="1674.39" y1="1116.35" x2="1895.24" y2="1032.71" stroke="#b4b4b4" stroke-width="1.2" stroke-dasharray="5.2 4.2"/>
<line x1="1444.69" y1="1049.02" x2="1720.11" y2="1120.74" stroke="#b4b4b4" stroke-width="1.2" stroke-dasharray="5.2 4.2"/>
<line x1="1486.65" y1="1037.06" x2="1761.01" y2="1104.61" stroke="#b4b4b4" stroke-width="1.2" stroke-dasharray="5.2 4.2"/>
<line x1="1526.86" y1="1025.60" x2="1799.54" y2="1089.41" stroke="#b4b4b4" stroke-width="1.2" stroke-dasharray="5.2 4.2"/>
<line x1="1564.56" y1="1014.86" x2="1835.90" y2="1075.06" stroke="#b4b4b4" stroke-width="1.2" stroke-dasharray="5.2 4.2"/>
<line x1="1600.78" y1="1004.53" x2="1870.27" y2="1061.50" stroke="#b4b4b4" stroke-width="1.2" stroke-dasharray="5.2 4.2"/>
<line x1="1635.51" y1="994.63" x2="1902.81" y2="1048.66" stroke="#b4b4b4" stroke-width="1.2" stroke-dasharray="5.2 4.2"/>
<line x1="1427.80" y1="688.14" x2="1444.69" y2="1049.02" stroke="#b4b4b4" stroke-width="1.2" stroke-dasharray="5.2 4.2"/>
<line x1="1471.70" y1="685.23" x2="1486.65" y2="1037.06" stroke="#b4b4b4" stroke-width="1.2" stroke-dasharray="5.2 4.2"/>
<line x1="1513.70" y1="682.45" x2="1526.86" y2="1025.60" stroke="#b4b4b4" stroke-width="1.2" stroke-dasharray="5.2 4.2"/>
<line x1="1553.00" y1="679.84" x2="1564.56" y2="1014.86" stroke="#b4b4b4" stroke-width="1.2" stroke-dasharray="5.2 4.2"/>
<line x1="1590.70" y1="677.34" x2="1600.78" y2="1004.53" stroke="#b4b4b4" stroke-width="1.2" stroke-dasharray="5.2 4.2"/>
<line x1="1626.80" y1="674.94" x2="1635.51" y2="994.63" stroke="#b4b4b4" stroke-width="1.2" stroke-dasharray="5.2 4.2"/>
<line x1="1436.91" y1="1025.88" x2="1661.77" y2="965.22" stroke="#b4b4b4" stroke-width="1.2" stroke-dasharray="5.2 4.2"/>
<line x1="1661.77" y1="965.31" x2="1927.46" y2="1014.22" stroke="#b4b4b4" stroke-width="1.2" stroke-dasharray="5.2 4.2"/>
<line x1="1434.52" y1="975.45" x2="1660.69" y2="921.37" stroke="#b4b4b4" stroke-width="1.2" stroke-dasharray="5.2 4.2"/>
<line x1="1660.70" y1="921.61" x2="1927.78" y2="964.23" stroke="#b4b4b4" stroke-width="1.2" stroke-dasharray="5.2 4.2"/>
<line x1="1432.10" y1="924.50" x2="1659.60" y2="877.13" stroke="#b4b4b4" stroke-width="1.2" stroke-dasharray="5.2 4.2"/>
<line x1="1659.61" y1="877.47" x2="1928.10" y2="913.65" stroke="#b4b4b4" stroke-width="1.2" stroke-dasharray="5.2 4.2"/>
<line x1="1429.66" y1="873.02" x2="1658.51" y2="832.50" stroke="#b4b4b4" stroke-width="1.2" stroke-dasharray="5.2 4.2"/>
<line x1="1658.52" y1="832.87" x2="1928.43" y2="862.48" stroke="#b4b4b4" stroke-width="1.2" stroke-dasharray="5.2 4.2"/>
<line x1="1427.19" y1="821.02" x2="1657.41" y2="787.47" stroke="#b4b4b4" stroke-width="1.2" stroke-dasharray="5.2 4.2"/>
<line x1="1657.41" y1="787.81" x2="1928.76" y2="810.70" stroke="#b4b4b4" stroke-width="1.2" stroke-dasharray="5.2 4.2"/>
<line x1="1424.69" y1="768.46" x2="1656.29" y2="742.03" stroke="#b4b4b4" stroke-width="1.2" stroke-dasharray="5.2 4.2"/>
<line x1="1656.30" y1="742.28" x2="1929.09" y2="758.29" stroke="#b4b4b4" stroke-width="1.2" stroke-dasharray="5.2 4.2"/>
<line x1="1422.17" y1="715.36" x2="1655.17" y2="696.18" stroke="#b4b4b4" stroke-width="1.2" stroke-dasharray="5.2 4.2"/>
<line x1="1655.17" y1="696.28" x2="1929.43" y2="705.26" stroke="#b4b4b4" stroke-width="1.2" stroke-dasharray="5.2 4.2"/>
<line x1="1667.22" y1="673.35" x2="1674.52" y2="989.40" stroke="#b4b4b4" stroke-width="1.2" stroke-dasharray="5.2 4.2"/>
<line x1="1692.99" y1="673.85" x2="1699.47" y2="994.29" stroke="#b4b4b4" stroke-width="1.2" stroke-dasharray="5.2 4.2"/>
<line x1="1719.53" y1="674.38" x2="1725.13" y2="999.33" stroke="#b4b4b4" stroke-width="1.2" stroke-dasharray="5.2 4.2"/>
<line x1="1746.86" y1="674.91" x2="1751.53" y2="1004.51" stroke="#b4b4b4" stroke-width="1.2" stroke-dasharray="5.2 4.2"/>
<line x1="1775.01" y1="675.46" x2="1778.69" y2="1009.84" stroke="#b4b4b4" stroke-width="1.2" stroke-dasharray="5.2 4.2"/>
<line x1="1804.03" y1="676.03" x2="1806.66" y2="1015.33" stroke="#b4b4b4" stroke-width="1.2" stroke-dasharray="5.2 4.2"/>
<line x1="1833.95" y1="676.62" x2="1835.46" y2="1020.98" stroke="#b4b4b4" stroke-width="1.2" stroke-dasharray="5.2 4.2"/>
<line x1="1864.83" y1="677.23" x2="1865.14" y2="1026.80" stroke="#b4b4b4" stroke-width="1.2" stroke-dasharray="5.2 4.2"/>
<line x1="1896.69" y1="677.85" x2="1895.74" y2="1032.81" stroke="#b4b4b4" stroke-width="1.2" stroke-dasharray="5.2 4.2"/>
<line x1="1420.90" y1="688.60" x2="1654.60" y2="673.10" stroke="#555" stroke-width="1.1" />
<line x1="1654.60" y1="673.10" x2="1929.60" y2="678.50" stroke="#555" stroke-width="1.1" />
<line x1="1929.60" y1="678.50" x2="1927.30" y2="1039.00" stroke="#555" stroke-width="1.1" />
<line x1="1654.60" y1="673.10" x2="1662.30" y2="987.00" stroke="#555" stroke-width="1.1" />
<line x1="1438.10" y1="1050.90" x2="1662.30" y2="987.00" stroke="#555" stroke-width="1.1" />
<line x1="1662.30" y1="987.00" x2="1927.30" y2="1039.00" stroke="#555" stroke-width="1.1" />
<line x1="1722.70" y1="832.00" x2="1726.30" y2="1052.00" stroke="#7d8fd6" stroke-width="1.1" />
<line x1="1723.30" y1="1052.00" x2="1729.30" y2="1052.00" stroke="#6a6fd0" stroke-width="1.3" />
<line x1="1805.30" y1="686.50" x2="1807.90" y2="1070.50" stroke="#ee6a62" stroke-width="1.1" />
<line x1="1804.60" y1="1070.50" x2="1811.20" y2="1070.50" stroke="#e8463c" stroke-width="1.4" />
<line x1="1805.60" y1="747.40" x2="1807.00" y2="1023.50" stroke="#7d8fd6" stroke-width="1.0" />
<line x1="1804.20" y1="1023.50" x2="1810.20" y2="1023.50" stroke="#3a4ab8" stroke-width="1.4" />
<line x1="1632.70" y1="1022.90" x2="1634.50" y2="1083.60" stroke="#7d8fd6" stroke-width="1.1" />
<line x1="1631.50" y1="1083.60" x2="1637.50" y2="1083.60" stroke="#5a66c8" stroke-width="1.3" />
<line x1="1588.40" y1="1020.90" x2="1594.60" y2="1020.90" stroke="#ee6a62" stroke-width="1.4" />
<polyline points="1632.70,1022.90 1722.70,832.00 1805.60,747.40" stroke="#2f4bb0" stroke-width="4.8" fill="none" stroke-linejoin="round"/>
<polyline points="1591.40,1015.20 1723.50,878.60 1805.30,686.50" stroke="#e02d1e" stroke-width="4.8" fill="none" stroke-linejoin="round"/>
<circle cx="1632.70" cy="1022.90" r="5.50" fill="url(#gblue)"/>
<circle cx="1722.70" cy="832.00" r="5.40" fill="url(#gblue)"/>
<circle cx="1805.60" cy="747.40" r="5.30" fill="url(#gblue)"/>
<circle cx="1591.40" cy="1015.20" r="5.30" fill="url(#gred)"/>
<circle cx="1723.50" cy="878.60" r="5.30" fill="url(#gred)"/>
<circle cx="1805.30" cy="686.50" r="5.80" fill="url(#gred)"/>
<polyline points="1420.90,688.60 1438.10,1050.90 1707.80,1125.60 1927.30,1039.00" stroke="#000" stroke-width="2.8" fill="none" stroke-linejoin="miter"/>
<line x1="1429.91" y1="1026.48" x2="1436.91" y2="1025.88" stroke="#000" stroke-width="2.4" />
<text class="b" font-size="21.00" text-anchor="end" transform="matrix(0.7200 -0.1100 0.0400 1.0000 1426.91 1034.88)" >440</text>
<line x1="1427.52" y1="976.05" x2="1434.52" y2="975.45" stroke="#000" stroke-width="2.4" />
<text class="b" font-size="21.00" text-anchor="end" transform="matrix(0.7200 -0.1100 0.0400 1.0000 1424.52 984.45)" >480</text>
<line x1="1425.10" y1="925.10" x2="1432.10" y2="924.50" stroke="#000" stroke-width="2.4" />
<text class="b" font-size="21.00" text-anchor="end" transform="matrix(0.7200 -0.1100 0.0400 1.0000 1422.10 933.50)" >520</text>
<line x1="1422.66" y1="873.62" x2="1429.66" y2="873.02" stroke="#000" stroke-width="2.4" />
<text class="b" font-size="21.00" text-anchor="end" transform="matrix(0.7200 -0.1100 0.0400 1.0000 1419.66 882.02)" >560</text>
<line x1="1420.19" y1="821.62" x2="1427.19" y2="821.02" stroke="#000" stroke-width="2.4" />
<text class="b" font-size="21.00" text-anchor="end" transform="matrix(0.7200 -0.1100 0.0400 1.0000 1417.19 830.02)" >600</text>
<line x1="1417.69" y1="769.06" x2="1424.69" y2="768.46" stroke="#000" stroke-width="2.4" />
<text class="b" font-size="21.00" text-anchor="end" transform="matrix(0.7200 -0.1100 0.0400 1.0000 1414.69 777.46)" >640</text>
<line x1="1415.17" y1="715.96" x2="1422.17" y2="715.36" stroke="#000" stroke-width="2.4" />
<text class="b" font-size="21.00" text-anchor="end" transform="matrix(0.7200 -0.1100 0.0400 1.0000 1412.17 724.36)" >680</text>
<line x1="1450.02" y1="1054.20" x2="1445.82" y2="1056.80" stroke="#000" stroke-width="2.2" />
<text class="b" font-size="18.00" text-anchor="end" transform="matrix(0.9000 -0.2700 0.6200 0.3200 1446.02 1057.80)" >14</text>
<line x1="1474.50" y1="1060.98" x2="1470.30" y2="1063.58" stroke="#000" stroke-width="2.2" />
<text class="b" font-size="18.00" text-anchor="end" transform="matrix(0.9000 -0.2700 0.6200 0.3200 1470.50 1064.58)" >16</text>
<line x1="1499.88" y1="1068.01" x2="1495.68" y2="1070.61" stroke="#000" stroke-width="2.2" />
<text class="b" font-size="18.00" text-anchor="end" transform="matrix(0.9000 -0.2700 0.6200 0.3200 1495.88 1071.61)" >18</text>
<line x1="1526.23" y1="1075.31" x2="1522.03" y2="1077.91" stroke="#000" stroke-width="2.2" />
<text class="b" font-size="18.00" text-anchor="end" transform="matrix(0.9000 -0.2700 0.6200 0.3200 1522.23 1078.91)" >20</text>
<line x1="1553.58" y1="1082.89" x2="1549.38" y2="1085.49" stroke="#000" stroke-width="2.2" />
<text class="b" font-size="18.00" text-anchor="end" transform="matrix(0.9000 -0.2700 0.6200 0.3200 1549.58 1086.49)" >22</text>
<line x1="1582.01" y1="1090.76" x2="1577.81" y2="1093.36" stroke="#000" stroke-width="2.2" />
<text class="b" font-size="18.00" text-anchor="end" transform="matrix(0.9000 -0.2700 0.6200 0.3200 1578.01 1094.36)" >24</text>
<line x1="1611.57" y1="1098.95" x2="1607.37" y2="1101.55" stroke="#000" stroke-width="2.2" />
<text class="b" font-size="18.00" text-anchor="end" transform="matrix(0.9000 -0.2700 0.6200 0.3200 1607.57 1102.55)" >26</text>
<line x1="1642.34" y1="1107.47" x2="1638.14" y2="1110.07" stroke="#000" stroke-width="2.2" />
<text class="b" font-size="18.00" text-anchor="end" transform="matrix(0.9000 -0.2700 0.6200 0.3200 1638.34 1111.07)" >28</text>
<line x1="1674.39" y1="1116.35" x2="1670.19" y2="1118.95" stroke="#000" stroke-width="2.2" />
<text class="b" font-size="18.00" text-anchor="end" transform="matrix(0.9000 -0.2700 0.6200 0.3200 1670.39 1119.95)" >30</text>
<line x1="1707.80" y1="1125.60" x2="1703.60" y2="1128.20" stroke="#000" stroke-width="2.2" />
<text class="b" font-size="18.00" text-anchor="end" transform="matrix(0.9000 -0.2700 0.6200 0.3200 1703.80 1129.20)" >32</text>
<line x1="1720.11" y1="1120.74" x2="1725.11" y2="1122.94" stroke="#000" stroke-width="2.3" />
<text class="b i" font-size="18.00" text-anchor="start" transform="matrix(0.8600 0.2700 -0.5500 0.4200 1728.11 1126.54)" >0.76</text>
<line x1="1761.01" y1="1104.61" x2="1766.01" y2="1106.81" stroke="#000" stroke-width="2.3" />
<text class="b i" font-size="18.00" text-anchor="start" transform="matrix(0.8600 0.2700 -0.5500 0.4200 1769.01 1110.41)" >1.14</text>
<line x1="1799.54" y1="1089.41" x2="1804.54" y2="1091.61" stroke="#000" stroke-width="2.3" />
<text class="b i" font-size="18.00" text-anchor="start" transform="matrix(0.8600 0.2700 -0.5500 0.4200 1807.54 1095.21)" >1.52</text>
<line x1="1835.90" y1="1075.06" x2="1840.90" y2="1077.26" stroke="#000" stroke-width="2.3" />
<text class="b i" font-size="18.00" text-anchor="start" transform="matrix(0.8600 0.2700 -0.5500 0.4200 1843.90 1080.86)" >1.90</text>
<line x1="1870.27" y1="1061.50" x2="1875.27" y2="1063.70" stroke="#000" stroke-width="2.3" />
<text class="b i" font-size="18.00" text-anchor="start" transform="matrix(0.8600 0.2700 -0.5500 0.4200 1878.27 1067.30)" >2.28</text>
<line x1="1902.81" y1="1048.66" x2="1907.81" y2="1050.86" stroke="#000" stroke-width="2.3" />
<text class="b i" font-size="18.00" text-anchor="start" transform="matrix(0.8600 0.2700 -0.5500 0.4200 1910.81 1054.46)" >2.66</text>
<text class="b" font-size="27.00" text-anchor="start" transform="matrix(0.8620 0.2390 -0.7440 0.2940 1472.40 1088.30)" >Pressure (N)</text>
<text class="b" font-size="27.00" text-anchor="start" transform="matrix(0.7470 -0.2950 0.9930 0.2750 1827.40 1124.60)" >Duration (s)</text>
<text font-size="27" class="b" transform="matrix(0.04 1 -1 0.04 1362.6 847.5)" textLength="78" lengthAdjust="spacingAndGlyphs">A<tspan font-size="19" dy="5">L</tspan><tspan dy="-5">/A</tspan><tspan font-size="19" dy="5">0</tspan></text>
<rect x="1431.20" y="702.40" width="226.50" height="56.70" fill="#fff" stroke="#2a2a2a" stroke-width="1.3" />
<line x1="1431.80" y1="718.30" x2="1484.00" y2="718.30" stroke="#e02d1e" stroke-width="5.4" />
<circle cx="1457.40" cy="718.30" r="6.60" fill="url(#gred)"/>
<line x1="1434.00" y1="744.80" x2="1481.40" y2="744.80" stroke="#2f4bb0" stroke-width="5.4" />
<circle cx="1457.40" cy="744.80" r="6.60" fill="url(#gblue)"/>
<text x="1487.30" y="725.10" class="b" font-size="21.20" text-anchor="start" >Different pressure</text>
<text x="1487.30" y="751.80" class="b" font-size="21.20" text-anchor="start" >Different duration</text></g>
</svg>
</body></html>
